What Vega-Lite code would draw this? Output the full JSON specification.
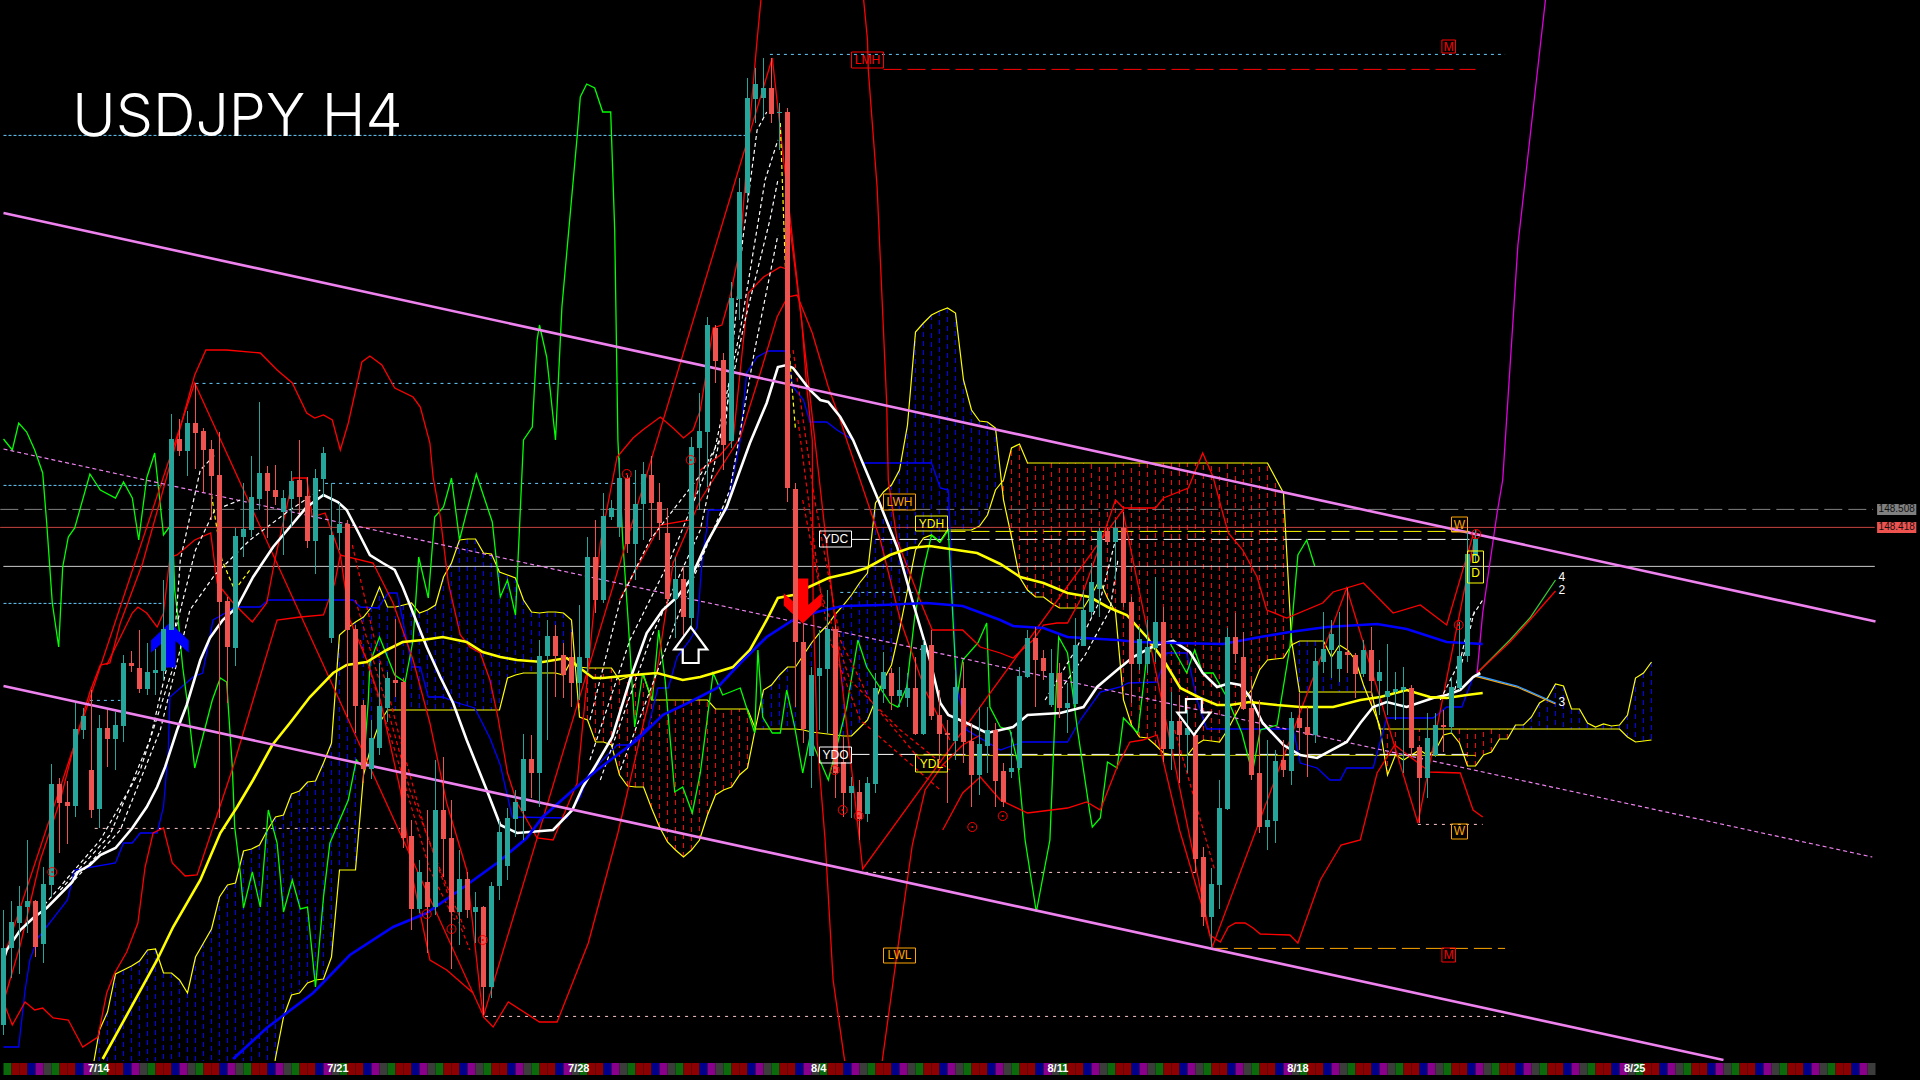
{"$schema":"https://vega.github.io/schema/vega-lite/v6.json","width":1920,"height":1080,"padding":0,"autosize":{"type":"none"},"background":"#000000","view":{"stroke":null},"config":{"axis":{"disable":true},"legend":{"disable":true}},
"datasets":{
"candles":[
{"bar":0,"o":145.93,"h":146.505,"l":145.88,"c":146.315},{"bar":1,"o":146.315,"h":146.55,"l":146.165,"c":146.445},{"bar":2,"o":146.44,"h":146.625,"l":146.185,"c":146.525},{"bar":3,"o":146.52,"h":146.855,"l":146.39,"c":146.55},{"bar":4,"o":146.55,"h":146.555,"l":146.27,"c":146.32},{"bar":5,"o":146.335,"h":146.72,"l":146.24,"c":146.635},{"bar":6,"o":146.63,"h":147.235,"l":146.57,"c":147.135},{"bar":7,"o":147.135,"h":147.165,"l":146.79,"c":147.04},{"bar":8,"o":147.045,"h":147.15,"l":146.835,"c":147.025},{"bar":9,"o":147.025,"h":147.54,"l":146.97,"c":147.41},
{"bar":10,"o":147.405,"h":147.515,"l":147.36,"c":147.475},{"bar":11,"o":147.205,"h":147.605,"l":146.965,"c":147.005},{"bar":12,"o":147.01,"h":147.48,"l":146.915,"c":147.415},{"bar":13,"o":147.415,"h":147.505,"l":147.22,"c":147.36},{"bar":14,"o":147.36,"h":147.495,"l":147.205,"c":147.43},{"bar":15,"o":147.425,"h":147.78,"l":147.345,"c":147.74},{"bar":16,"o":147.74,"h":147.8,"l":147.695,"c":147.725},{"bar":17,"o":147.715,"h":147.905,"l":147.59,"c":147.61},{"bar":18,"o":147.61,"h":147.84,"l":147.58,"c":147.695},{"bar":19,"o":147.69,"h":147.81,"l":147.58,"c":147.705},
{"bar":20,"o":147.7,"h":148.155,"l":147.655,"c":147.91},{"bar":21,"o":147.905,"h":148.985,"l":147.905,"c":148.86},{"bar":22,"o":148.86,"h":148.96,"l":148.775,"c":148.8},{"bar":23,"o":148.8,"h":149.0,"l":148.675,"c":148.94},{"bar":24,"o":148.94,"h":149.14,"l":148.71,"c":148.89},{"bar":25,"o":148.9,"h":148.915,"l":148.595,"c":148.805},{"bar":26,"o":148.81,"h":148.855,"l":148.455,"c":148.675},{"bar":27,"o":148.68,"h":148.895,"l":146.965,"c":148.045},{"bar":28,"o":148.05,"h":148.07,"l":147.54,"c":147.82},{"bar":29,"o":147.815,"h":148.415,"l":147.725,"c":148.375},
{"bar":30,"o":148.37,"h":148.64,"l":148.27,"c":148.41},{"bar":31,"o":148.405,"h":148.775,"l":148.37,"c":148.57},{"bar":32,"o":148.56,"h":149.045,"l":148.505,"c":148.69},{"bar":33,"o":148.69,"h":148.725,"l":148.365,"c":148.6},{"bar":34,"o":148.605,"h":148.73,"l":148.53,"c":148.57},{"bar":35,"o":148.495,"h":148.605,"l":148.28,"c":148.565},{"bar":36,"o":148.56,"h":148.7,"l":148.42,"c":148.65},{"bar":37,"o":148.655,"h":148.855,"l":148.49,"c":148.57},{"bar":38,"o":148.575,"h":148.67,"l":148.315,"c":148.35},{"bar":39,"o":148.35,"h":148.71,"l":148.185,"c":148.665},
{"bar":40,"o":148.66,"h":148.82,"l":148.57,"c":148.79},{"bar":41,"o":147.865,"h":148.64,"l":147.84,"c":148.38},{"bar":42,"o":148.39,"h":148.54,"l":148.305,"c":148.435},{"bar":43,"o":148.435,"h":148.455,"l":147.47,"c":147.905},{"bar":44,"o":147.91,"h":147.93,"l":147.39,"c":147.525},{"bar":45,"o":147.53,"h":147.555,"l":147.14,"c":147.21},{"bar":46,"o":147.21,"h":147.455,"l":147.16,"c":147.365},{"bar":47,"o":147.315,"h":147.74,"l":147.28,"c":147.525},{"bar":48,"o":147.515,"h":147.695,"l":147.445,"c":147.665},{"bar":49,"o":147.655,"h":147.96,"l":147.57,"c":147.64},
{"bar":50,"o":147.645,"h":147.665,"l":146.815,"c":146.865},{"bar":51,"o":146.875,"h":146.955,"l":146.405,"c":146.51},{"bar":52,"o":146.51,"h":146.755,"l":146.49,"c":146.695},{"bar":53,"o":146.645,"h":147.005,"l":146.29,"c":146.52},{"bar":54,"o":146.52,"h":147.255,"l":146.48,"c":147.005},{"bar":55,"o":147.005,"h":147.27,"l":146.67,"c":146.86},{"bar":56,"o":146.865,"h":147.055,"l":146.21,"c":146.495},{"bar":57,"o":146.495,"h":146.805,"l":146.33,"c":146.66},{"bar":58,"o":146.66,"h":146.695,"l":146.465,"c":146.505},{"bar":59,"o":146.495,"h":146.595,"l":146.34,"c":146.52},
{"bar":60,"o":146.52,"h":146.525,"l":145.98,"c":146.12},{"bar":61,"o":146.12,"h":146.645,"l":146.065,"c":146.625},{"bar":62,"o":146.625,"h":146.955,"l":146.555,"c":146.895},{"bar":63,"o":146.725,"h":147.015,"l":146.655,"c":146.965},{"bar":64,"o":146.96,"h":147.105,"l":146.87,"c":147.045},{"bar":65,"o":147.0,"h":147.385,"l":146.855,"c":147.26},{"bar":66,"o":147.26,"h":147.38,"l":147.065,"c":147.19},{"bar":67,"o":147.19,"h":147.855,"l":147.02,"c":147.775},{"bar":68,"o":147.775,"h":147.955,"l":147.355,"c":147.875},{"bar":69,"o":147.875,"h":147.93,"l":147.57,"c":147.775},
{"bar":70,"o":147.78,"h":147.84,"l":147.565,"c":147.68},{"bar":71,"o":147.77,"h":147.895,"l":147.52,"c":147.64},{"bar":72,"o":147.64,"h":148.03,"l":147.555,"c":147.77},{"bar":73,"o":147.765,"h":148.37,"l":147.69,"c":148.27},{"bar":74,"o":148.27,"h":148.455,"l":147.99,"c":148.055},{"bar":75,"o":148.055,"h":148.59,"l":148.04,"c":148.475},{"bar":76,"o":148.47,"h":148.555,"l":148.455,"c":148.515},{"bar":77,"o":148.42,"h":148.765,"l":148.37,"c":148.665},{"bar":78,"o":148.665,"h":148.68,"l":148.29,"c":148.335},{"bar":79,"o":148.335,"h":148.705,"l":148.155,"c":148.535},
{"bar":80,"o":148.535,"h":148.745,"l":148.355,"c":148.685},{"bar":81,"o":148.68,"h":148.775,"l":148.37,"c":148.54},{"bar":82,"o":148.545,"h":148.64,"l":148.355,"c":148.44},{"bar":83,"o":148.39,"h":148.515,"l":148.04,"c":148.06},{"bar":84,"o":148.06,"h":148.27,"l":147.865,"c":148.16},{"bar":85,"o":148.16,"h":148.22,"l":147.87,"c":147.97},{"bar":86,"o":147.965,"h":148.87,"l":147.92,"c":148.82},{"bar":87,"o":148.815,"h":149.09,"l":148.505,"c":148.9},{"bar":88,"o":148.895,"h":149.47,"l":148.62,"c":149.43},{"bar":89,"o":149.415,"h":149.43,"l":149.14,"c":149.25},
{"bar":90,"o":149.255,"h":149.29,"l":148.705,"c":148.83},{"bar":91,"o":148.85,"h":149.645,"l":148.815,"c":149.565},{"bar":92,"o":149.56,"h":150.165,"l":149.455,"c":150.095},{"bar":93,"o":150.09,"h":150.665,"l":150.055,"c":150.565},{"bar":94,"o":150.56,"h":150.715,"l":150.44,"c":150.635},{"bar":95,"o":150.565,"h":150.765,"l":150.47,"c":150.615},{"bar":96,"o":150.615,"h":150.765,"l":150.44,"c":150.485},{"bar":97,"o":150.49,"h":150.54,"l":150.305,"c":150.495},{"bar":98,"o":150.495,"h":150.515,"l":148.545,"c":148.615},{"bar":99,"o":148.61,"h":148.64,"l":147.52,"c":147.845},
{"bar":100,"o":147.845,"h":147.94,"l":147.34,"c":147.41},{"bar":101,"o":147.275,"h":147.72,"l":147.115,"c":147.68},{"bar":102,"o":147.675,"h":147.905,"l":147.405,"c":147.715},{"bar":103,"o":147.71,"h":148.105,"l":147.39,"c":147.91},{"bar":104,"o":147.91,"h":147.93,"l":147.065,"c":147.19},{"bar":105,"o":147.245,"h":147.37,"l":146.97,"c":147.09},{"bar":106,"o":147.09,"h":147.17,"l":146.965,"c":147.125},{"bar":107,"o":147.095,"h":147.155,"l":146.855,"c":146.96},{"bar":108,"o":146.985,"h":147.17,"l":146.945,"c":147.14},{"bar":109,"o":147.135,"h":147.69,"l":147.09,"c":147.615},
{"bar":110,"o":147.61,"h":147.795,"l":147.54,"c":147.695},{"bar":111,"o":147.69,"h":147.715,"l":147.505,"c":147.575},{"bar":112,"o":147.575,"h":147.72,"l":147.52,"c":147.605},{"bar":113,"o":147.565,"h":147.69,"l":147.52,"c":147.615},{"bar":114,"o":147.615,"h":147.77,"l":147.38,"c":147.385},{"bar":115,"o":147.385,"h":147.855,"l":147.38,"c":147.83},{"bar":116,"o":147.83,"h":147.905,"l":147.455,"c":147.475},{"bar":117,"o":147.48,"h":147.605,"l":147.255,"c":147.385},{"bar":118,"o":147.39,"h":147.455,"l":147.04,"c":147.38},{"bar":119,"o":147.35,"h":147.705,"l":147.255,"c":147.62},
{"bar":120,"o":147.615,"h":147.745,"l":147.24,"c":147.345},{"bar":121,"o":147.35,"h":147.44,"l":147.02,"c":147.18},{"bar":122,"o":147.18,"h":147.52,"l":147.08,"c":147.335},{"bar":123,"o":147.325,"h":147.52,"l":147.19,"c":147.405},{"bar":124,"o":147.405,"h":147.44,"l":147.02,"c":147.15},{"bar":125,"o":147.2,"h":147.24,"l":147.02,"c":147.045},{"bar":126,"o":147.195,"h":147.395,"l":147.165,"c":147.215},{"bar":127,"o":147.215,"h":147.72,"l":147.205,"c":147.675},{"bar":128,"o":147.67,"h":147.905,"l":147.665,"c":147.865},{"bar":129,"o":147.865,"h":147.92,"l":147.52,"c":147.755},
{"bar":130,"o":147.765,"h":147.805,"l":147.655,"c":147.7},{"bar":131,"o":147.53,"h":147.81,"l":147.52,"c":147.69},{"bar":132,"o":147.69,"h":147.74,"l":147.465,"c":147.515},{"bar":133,"o":147.515,"h":147.64,"l":147.39,"c":147.54},{"bar":134,"o":147.535,"h":147.965,"l":147.52,"c":147.83},{"bar":135,"o":147.825,"h":148.105,"l":147.955,"c":148.005},{"bar":136,"o":147.995,"h":148.24,"l":147.97,"c":148.145},{"bar":137,"o":148.11,"h":148.415,"l":147.97,"c":148.4},{"bar":138,"o":148.4,"h":148.415,"l":148.33,"c":148.345},{"bar":139,"o":148.345,"h":148.455,"l":148.155,"c":148.415},
{"bar":140,"o":148.415,"h":148.495,"l":148.02,"c":148.04},{"bar":141,"o":148.045,"h":148.07,"l":147.54,"c":147.735},{"bar":142,"o":147.735,"h":147.92,"l":147.705,"c":147.86},{"bar":143,"o":147.735,"h":147.955,"l":147.69,"c":147.82},{"bar":144,"o":147.815,"h":148.17,"l":147.745,"c":147.945},{"bar":145,"o":147.945,"h":148.02,"l":147.245,"c":147.31},{"bar":146,"o":147.31,"h":147.595,"l":147.205,"c":147.45},{"bar":147,"o":147.45,"h":147.58,"l":147.14,"c":147.38},{"bar":148,"o":147.38,"h":147.505,"l":147.19,"c":147.415},{"bar":149,"o":147.38,"h":147.405,"l":146.69,"c":146.76},
{"bar":150,"o":146.77,"h":146.82,"l":146.425,"c":146.47},{"bar":151,"o":146.47,"h":146.715,"l":146.32,"c":146.635},{"bar":152,"o":146.63,"h":147.155,"l":146.51,"c":147.015},{"bar":153,"o":147.01,"h":147.915,"l":147.005,"c":147.87},{"bar":154,"o":147.87,"h":147.99,"l":147.74,"c":147.785},{"bar":155,"o":147.77,"h":147.895,"l":147.505,"c":147.51},{"bar":156,"o":147.515,"h":147.655,"l":147.155,"c":147.18},{"bar":157,"o":147.19,"h":147.555,"l":146.89,"c":146.92},{"bar":158,"o":146.92,"h":147.355,"l":146.805,"c":146.955},{"bar":159,"o":146.95,"h":147.305,"l":146.84,"c":147.25},
{"bar":160,"o":147.255,"h":147.355,"l":147.17,"c":147.205},{"bar":161,"o":147.2,"h":147.495,"l":147.13,"c":147.465},{"bar":162,"o":147.465,"h":147.59,"l":147.305,"c":147.415},{"bar":163,"o":147.42,"h":147.52,"l":147.17,"c":147.38},{"bar":164,"o":147.38,"h":147.815,"l":147.34,"c":147.75},{"bar":165,"o":147.745,"h":147.995,"l":147.69,"c":147.81},{"bar":166,"o":147.805,"h":147.955,"l":147.665,"c":147.885},{"bar":167,"o":147.71,"h":147.995,"l":147.645,"c":147.8},{"bar":168,"o":147.795,"h":148.115,"l":147.69,"c":147.78},{"bar":169,"o":147.78,"h":147.79,"l":147.565,"c":147.685},
{"bar":170,"o":147.685,"h":147.855,"l":147.67,"c":147.805},{"bar":171,"o":147.805,"h":147.92,"l":147.58,"c":147.65},{"bar":172,"o":147.65,"h":147.755,"l":147.48,"c":147.695},{"bar":173,"o":147.57,"h":147.835,"l":147.48,"c":147.6},{"bar":174,"o":147.595,"h":147.695,"l":147.455,"c":147.61},{"bar":175,"o":147.605,"h":147.72,"l":147.19,"c":147.62},{"bar":176,"o":147.615,"h":147.63,"l":147.27,"c":147.315},{"bar":177,"o":147.32,"h":147.33,"l":146.94,"c":147.165},{"bar":178,"o":147.165,"h":147.49,"l":147.065,"c":147.365},{"bar":179,"o":147.28,"h":147.49,"l":147.27,"c":147.43},
{"bar":180,"o":147.43,"h":147.505,"l":147.295,"c":147.42},{"bar":181,"o":147.42,"h":147.67,"l":147.39,"c":147.62},{"bar":182,"o":147.615,"h":147.945,"l":147.605,"c":147.775},{"bar":183,"o":147.775,"h":148.405,"l":147.745,"c":148.285},{"bar":184,"o":148.275,"h":148.405,"l":148.24,"c":148.36}
],
"kumo":[
{"bar":11,"spanA":145.68,"spanB":145.5},{"bar":12,"spanA":145.905,"spanB":145.5},{"bar":13,"spanA":145.995,"spanB":145.5},{"bar":14,"spanA":146.185,"spanB":145.5},{"bar":15,"spanA":146.205,"spanB":145.5},{"bar":16,"spanA":146.225,"spanB":145.5},{"bar":17,"spanA":146.25,"spanB":145.5},{"bar":18,"spanA":146.305,"spanB":145.5},{"bar":19,"spanA":146.31,"spanB":145.5},{"bar":20,"spanA":146.19,"spanB":145.5},{"bar":21,"spanA":146.19,"spanB":145.5},{"bar":22,"spanA":146.155,"spanB":145.5},{"bar":23,"spanA":146.09,"spanB":145.5},{"bar":24,"spanA":146.27,"spanB":145.5},{"bar":25,"spanA":146.34,"spanB":145.5},{"bar":26,"spanA":146.41,"spanB":145.5},{"bar":27,"spanA":146.57,"spanB":145.5},{"bar":28,"spanA":146.63,"spanB":145.5},{"bar":29,"spanA":146.64,"spanB":145.5},{"bar":30,"spanA":146.8,"spanB":145.5},{"bar":31,"spanA":146.81,"spanB":145.5},{"bar":32,"spanA":146.83,"spanB":145.5},{"bar":33,"spanA":146.905,"spanB":145.5},
{"bar":34,"spanA":146.97,"spanB":145.765},{"bar":35,"spanA":146.98,"spanB":145.97},{"bar":36,"spanA":147.085,"spanB":146.08},{"bar":37,"spanA":147.1,"spanB":146.09},{"bar":38,"spanA":147.145,"spanB":146.14},{"bar":39,"spanA":147.15,"spanB":146.155},{"bar":40,"spanA":147.24,"spanB":146.16},{"bar":41,"spanA":147.34,"spanB":146.27},{"bar":42,"spanA":147.88,"spanB":146.705},{"bar":43,"spanA":147.915,"spanB":146.705},{"bar":44,"spanA":147.945,"spanB":146.705},{"bar":45,"spanA":147.97,"spanB":147.18},{"bar":46,"spanA":148.02,"spanB":147.33},{"bar":47,"spanA":148.12,"spanB":147.44},{"bar":48,"spanA":148.02,"spanB":147.505},{"bar":49,"spanA":148.02,"spanB":147.505},{"bar":50,"spanA":148.03,"spanB":147.505},{"bar":51,"spanA":148.04,"spanB":147.505},{"bar":52,"spanA":147.99,"spanB":147.505},{"bar":53,"spanA":148.005,"spanB":147.505},{"bar":54,"spanA":148.03,"spanB":147.505},{"bar":55,"spanA":148.17,"spanB":147.505},{"bar":56,"spanA":148.24,"spanB":147.505},{"bar":57,"spanA":148.355,"spanB":147.505},{"bar":58,"spanA":148.36,"spanB":147.505},{"bar":59,"spanA":148.36,"spanB":147.505},{"bar":60,"spanA":148.29,"spanB":147.505},{"bar":61,"spanA":148.285,"spanB":147.505},{"bar":62,"spanA":148.195,"spanB":147.505},
{"bar":63,"spanA":148.18,"spanB":147.665},{"bar":64,"spanA":148.165,"spanB":147.68},{"bar":65,"spanA":148.055,"spanB":147.69},{"bar":66,"spanA":147.995,"spanB":147.69},{"bar":67,"spanA":147.99,"spanB":147.69},{"bar":68,"spanA":147.995,"spanB":147.69},{"bar":69,"spanA":147.995,"spanB":147.69},{"bar":70,"spanA":147.99,"spanB":147.68},{"bar":71,"spanA":147.955,"spanB":147.755},{"bar":72,"spanA":147.47,"spanB":147.72},{"bar":73,"spanA":147.455,"spanB":147.715},{"bar":74,"spanA":147.345,"spanB":147.715},{"bar":75,"spanA":147.345,"spanB":147.715},{"bar":76,"spanA":147.33,"spanB":147.715},{"bar":77,"spanA":147.18,"spanB":147.655},{"bar":78,"spanA":147.125,"spanB":147.67},{"bar":79,"spanA":147.12,"spanB":147.68},{"bar":80,"spanA":147.12,"spanB":147.68},{"bar":81,"spanA":147.015,"spanB":147.555},{"bar":82,"spanA":146.92,"spanB":147.555},{"bar":83,"spanA":146.845,"spanB":147.555},{"bar":84,"spanA":146.805,"spanB":147.555},{"bar":85,"spanA":146.77,"spanB":147.555},{"bar":86,"spanA":146.805,"spanB":147.555},{"bar":87,"spanA":146.855,"spanB":147.555},{"bar":88,"spanA":146.98,"spanB":147.555},{"bar":89,"spanA":147.08,"spanB":147.51},{"bar":90,"spanA":147.105,"spanB":147.51},{"bar":91,"spanA":147.12,"spanB":147.51},{"bar":92,"spanA":147.18,"spanB":147.51},{"bar":93,"spanA":147.215,"spanB":147.51},{"bar":94,"spanA":147.415,"spanB":147.41},
{"bar":95,"spanA":147.605,"spanB":147.41},{"bar":96,"spanA":147.63,"spanB":147.41},{"bar":97,"spanA":147.68,"spanB":147.41},{"bar":98,"spanA":147.72,"spanB":147.41},{"bar":99,"spanA":147.72,"spanB":147.41},{"bar":100,"spanA":147.78,"spanB":147.405},{"bar":101,"spanA":147.84,"spanB":147.395},{"bar":102,"spanA":147.89,"spanB":147.39},{"bar":103,"spanA":147.93,"spanB":147.385},{"bar":104,"spanA":147.985,"spanB":147.38},{"bar":105,"spanA":148.03,"spanB":147.375},{"bar":106,"spanA":148.08,"spanB":147.375},{"bar":107,"spanA":148.14,"spanB":147.415},{"bar":108,"spanA":148.19,"spanB":147.455},{"bar":109,"spanA":148.54,"spanB":147.555},{"bar":110,"spanA":148.595,"spanB":147.655},{"bar":111,"spanA":148.63,"spanB":147.73},{"bar":112,"spanA":148.705,"spanB":147.905},{"bar":113,"spanA":148.93,"spanB":148.105},{"bar":114,"spanA":149.395,"spanB":148.305},{"bar":115,"spanA":149.44,"spanB":148.365},{"bar":116,"spanA":149.48,"spanB":148.38},{"bar":117,"spanA":149.5,"spanB":148.345},{"bar":118,"spanA":149.515,"spanB":148.405},{"bar":119,"spanA":149.49,"spanB":148.405},{"bar":120,"spanA":149.155,"spanB":148.405},{"bar":121,"spanA":149.005,"spanB":148.405},{"bar":122,"spanA":148.95,"spanB":148.425},{"bar":123,"spanA":148.945,"spanB":148.48},{"bar":124,"spanA":148.915,"spanB":148.605},
{"bar":125,"spanA":148.555,"spanB":148.655},{"bar":126,"spanA":148.37,"spanB":148.815},{"bar":127,"spanA":148.17,"spanB":148.835},{"bar":128,"spanA":148.105,"spanB":148.74},{"bar":129,"spanA":148.07,"spanB":148.74},{"bar":130,"spanA":148.07,"spanB":148.74},{"bar":131,"spanA":148.04,"spanB":148.74},{"bar":132,"spanA":148.015,"spanB":148.74},{"bar":133,"spanA":148.015,"spanB":148.74},{"bar":134,"spanA":148.015,"spanB":148.74},{"bar":135,"spanA":148.015,"spanB":148.74},{"bar":136,"spanA":148.08,"spanB":148.74},{"bar":137,"spanA":148.155,"spanB":148.74},{"bar":138,"spanA":148.065,"spanB":148.74},{"bar":139,"spanA":147.995,"spanB":148.74},{"bar":140,"spanA":147.555,"spanB":148.74},{"bar":141,"spanA":147.43,"spanB":148.74},{"bar":142,"spanA":147.37,"spanB":148.74},{"bar":143,"spanA":147.365,"spanB":148.74},{"bar":144,"spanA":147.33,"spanB":148.74},{"bar":145,"spanA":147.29,"spanB":148.74},{"bar":146,"spanA":147.28,"spanB":148.74},{"bar":147,"spanA":147.28,"spanB":148.74},{"bar":148,"spanA":147.28,"spanB":148.74},{"bar":149,"spanA":147.33,"spanB":148.74},{"bar":150,"spanA":147.355,"spanB":148.74},{"bar":151,"spanA":147.35,"spanB":148.74},{"bar":152,"spanA":147.345,"spanB":148.74},{"bar":153,"spanA":147.405,"spanB":148.74},{"bar":154,"spanA":147.48,"spanB":148.74},{"bar":155,"spanA":147.555,"spanB":148.74},{"bar":156,"spanA":147.605,"spanB":148.74},{"bar":157,"spanA":147.705,"spanB":148.74},{"bar":158,"spanA":147.755,"spanB":148.74},{"bar":159,"spanA":147.76,"spanB":148.665},{"bar":160,"spanA":147.765,"spanB":148.59},
{"bar":161,"spanA":147.83,"spanB":147.855},{"bar":162,"spanA":147.85,"spanB":147.595},{"bar":163,"spanA":147.85,"spanB":147.595},{"bar":164,"spanA":147.85,"spanB":147.595},{"bar":165,"spanA":147.85,"spanB":147.595},{"bar":166,"spanA":147.77,"spanB":147.595},{"bar":167,"spanA":147.83,"spanB":147.595},{"bar":168,"spanA":147.805,"spanB":147.595},{"bar":169,"spanA":147.755,"spanB":147.595},{"bar":170,"spanA":147.63,"spanB":147.595},{"bar":171,"spanA":147.53,"spanB":147.595},{"bar":172,"spanA":147.43,"spanB":147.41},{"bar":173,"spanA":147.18,"spanB":147.41},{"bar":174,"spanA":147.28,"spanB":147.41},{"bar":175,"spanA":147.255,"spanB":147.41},{"bar":176,"spanA":147.28,"spanB":147.41},{"bar":177,"spanA":147.305,"spanB":147.41},{"bar":178,"spanA":147.28,"spanB":147.41},{"bar":179,"spanA":147.305,"spanB":147.41},{"bar":180,"spanA":147.38,"spanB":147.41},{"bar":181,"spanA":147.39,"spanB":147.41},{"bar":182,"spanA":147.34,"spanB":147.41},{"bar":183,"spanA":147.225,"spanB":147.41},{"bar":184,"spanA":147.225,"spanB":147.41},{"bar":185,"spanA":147.28,"spanB":147.41},{"bar":186,"spanA":147.295,"spanB":147.41},{"bar":187,"spanA":147.36,"spanB":147.41},{"bar":188,"spanA":147.36,"spanB":147.41},{"bar":189,"spanA":147.43,"spanB":147.41},{"bar":190,"spanA":147.43,"spanB":147.41},{"bar":191,"spanA":147.47,"spanB":147.41},{"bar":192,"spanA":147.54,"spanB":147.41},{"bar":193,"spanA":147.565,"spanB":147.41},{"bar":194,"spanA":147.635,"spanB":147.41},{"bar":195,"spanA":147.625,"spanB":147.41},{"bar":196,"spanA":147.51,"spanB":147.41},{"bar":197,"spanA":147.51,"spanB":147.41},{"bar":198,"spanA":147.44,"spanB":147.41},{"bar":199,"spanA":147.42,"spanB":147.41},{"bar":200,"spanA":147.435,"spanB":147.41},{"bar":201,"spanA":147.425,"spanB":147.41},{"bar":202,"spanA":147.43,"spanB":147.41},{"bar":203,"spanA":147.48,"spanB":147.37},{"bar":204,"spanA":147.665,"spanB":147.345},{"bar":205,"spanA":147.69,"spanB":147.35},{"bar":206,"spanA":147.745,"spanB":147.355}
],
"thick":[
{"s":"ma1","bar":0,"price":146.255},{"s":"ma1","bar":0.4,"price":146.305},{"s":"ma1","bar":2.1,"price":146.405},{"s":"ma1","bar":3.7,"price":146.465},{"s":"ma1","bar":5.4,"price":146.515},{"s":"ma1","bar":8.6,"price":146.645},{"s":"ma1","bar":9.3,"price":146.695},{"s":"ma1","bar":10.8,"price":146.73},{"s":"ma1","bar":12.1,"price":146.78},{"s":"ma1","bar":14,"price":146.815},{"s":"ma1","bar":16.1,"price":146.915},{"s":"ma1","bar":17.9,"price":147.02},{"s":"ma1","bar":19.2,"price":147.12},{"s":"ma1","bar":20.2,"price":147.22},{"s":"ma1","bar":21.7,"price":147.405},{"s":"ma1","bar":22.9,"price":147.53},{"s":"ma1","bar":24.6,"price":147.755},{"s":"ma1","bar":25.8,"price":147.865},{"s":"ma1","bar":27.4,"price":147.955},{"s":"ma1","bar":29.2,"price":148.02},{"s":"ma1","bar":31.2,"price":148.17},{"s":"ma1","bar":33.7,"price":148.32},{"s":"ma1","bar":35.8,"price":148.42},{"s":"ma1","bar":37.9,"price":148.52},{"s":"ma1","bar":40,"price":148.58},{"s":"ma1","bar":41.8,"price":148.545},{"s":"ma1","bar":42.9,"price":148.505},{"s":"ma1","bar":44.2,"price":148.405},{"s":"ma1","bar":45.8,"price":148.28},{"s":"ma1","bar":47.4,"price":148.24},{"s":"ma1","bar":48.9,"price":148.205},{"s":"ma1","bar":49.9,"price":148.12},{"s":"ma1","bar":51.2,"price":147.99},{"s":"ma1","bar":52.9,"price":147.82},{"s":"ma1","bar":54.6,"price":147.67},{"s":"ma1","bar":56.2,"price":147.54},{"s":"ma1","bar":57.9,"price":147.355},{"s":"ma1","bar":60.4,"price":147.105},{"s":"ma1","bar":62.1,"price":146.93},{"s":"ma1","bar":64.2,"price":146.89},{"s":"ma1","bar":68.7,"price":146.905},{"s":"ma1","bar":71.1,"price":147.005},{"s":"ma1","bar":72.4,"price":147.12},{"s":"ma1","bar":74.2,"price":147.24},{"s":"ma1","bar":76.1,"price":147.37},{"s":"ma1","bar":78.3,"price":147.655},{"s":"ma1","bar":80.4,"price":147.89},{"s":"ma1","bar":82.4,"price":148.005},{"s":"ma1","bar":84.2,"price":148.07},{"s":"ma1","bar":85.8,"price":148.155},{"s":"ma1","bar":87.9,"price":148.34},{"s":"ma1","bar":90.4,"price":148.52},{"s":"ma1","bar":93.3,"price":148.84},{"s":"ma1","bar":95.4,"price":149.04},{"s":"ma1","bar":96.8,"price":149.22},{"s":"ma1","bar":97.9,"price":149.23},{"s":"ma1","bar":98.7,"price":149.215},{"s":"ma1","bar":100.8,"price":149.105},{"s":"ma1","bar":102.1,"price":149.055},{"s":"ma1","bar":103.1,"price":149.045},{"s":"ma1","bar":104.6,"price":148.97},{"s":"ma1","bar":106.2,"price":148.855},{"s":"ma1","bar":109.2,"price":148.57},{"s":"ma1","bar":111.7,"price":148.32},{"s":"ma1","bar":113.7,"price":148.04},{"s":"ma1","bar":115.8,"price":147.755},{"s":"ma1","bar":117.1,"price":147.54},{"s":"ma1","bar":118.1,"price":147.48},{"s":"ma1","bar":120.4,"price":147.44},{"s":"ma1","bar":122.9,"price":147.39},{"s":"ma1","bar":124.6,"price":147.405},{"s":"ma1","bar":126.2,"price":147.42},{"s":"ma1","bar":128,"price":147.48},{"s":"ma1","bar":132.1,"price":147.49},{"s":"ma1","bar":135,"price":147.52},{"s":"ma1","bar":136.7,"price":147.62},{"s":"ma1","bar":139.2,"price":147.705},{"s":"ma1","bar":141.2,"price":147.77},{"s":"ma1","bar":144,"price":147.83},{"s":"ma1","bar":146.2,"price":147.85},{"s":"ma1","bar":148.3,"price":147.795},{"s":"ma1","bar":149.9,"price":147.69},{"s":"ma1","bar":151.7,"price":147.62},{"s":"ma1","bar":153.3,"price":147.64},{"s":"ma1","bar":154.6,"price":147.63},{"s":"ma1","bar":155.8,"price":147.57},{"s":"ma1","bar":157.4,"price":147.44},{"s":"ma1","bar":160,"price":147.33},{"s":"ma1","bar":162.1,"price":147.28},{"s":"ma1","bar":164.2,"price":147.265},{"s":"ma1","bar":167.9,"price":147.345},{"s":"ma1","bar":169.6,"price":147.44},{"s":"ma1","bar":171.2,"price":147.52},{"s":"ma1","bar":172.9,"price":147.545},{"s":"ma1","bar":175.4,"price":147.52},{"s":"ma1","bar":178.7,"price":147.565},{"s":"ma1","bar":180.4,"price":147.58},{"s":"ma1","bar":182.1,"price":147.605},{"s":"ma1","bar":183.7,"price":147.67},{"s":"ma1","bar":184.6,"price":147.69},
{"s":"ma2","bar":12.4,"price":145.76},{"s":"ma2","bar":19.2,"price":146.255},{"s":"ma2","bar":21.2,"price":146.42},{"s":"ma2","bar":24.6,"price":146.655},{"s":"ma2","bar":27.1,"price":146.89},{"s":"ma2","bar":29.2,"price":147.02},{"s":"ma2","bar":31.2,"price":147.155},{"s":"ma2","bar":33.6,"price":147.33},{"s":"ma2","bar":35.8,"price":147.44},{"s":"ma2","bar":38.3,"price":147.57},{"s":"ma2","bar":41.2,"price":147.69},{"s":"ma2","bar":42.9,"price":147.73},{"s":"ma2","bar":45.4,"price":147.745},{"s":"ma2","bar":47.9,"price":147.805},{"s":"ma2","bar":49.9,"price":147.845},{"s":"ma2","bar":52.4,"price":147.855},{"s":"ma2","bar":54.9,"price":147.87},{"s":"ma2","bar":57.9,"price":147.845},{"s":"ma2","bar":59.9,"price":147.795},{"s":"ma2","bar":62.1,"price":147.77},{"s":"ma2","bar":64.2,"price":147.755},{"s":"ma2","bar":67.4,"price":147.745},{"s":"ma2","bar":70.4,"price":147.765},{"s":"ma2","bar":73.7,"price":147.665},{"s":"ma2","bar":74.9,"price":147.665},{"s":"ma2","bar":78.7,"price":147.68},{"s":"ma2","bar":81.7,"price":147.69},{"s":"ma2","bar":84.9,"price":147.655},{"s":"ma2","bar":87.1,"price":147.67},{"s":"ma2","bar":89.2,"price":147.695},{"s":"ma2","bar":91.2,"price":147.72},{"s":"ma2","bar":93.3,"price":147.805},{"s":"ma2","bar":95.4,"price":147.955},{"s":"ma2","bar":96.8,"price":148.065},{"s":"ma2","bar":98.7,"price":148.08},{"s":"ma2","bar":100.4,"price":148.115},{"s":"ma2","bar":103.1,"price":148.165},{"s":"ma2","bar":105.8,"price":148.19},{"s":"ma2","bar":107.9,"price":148.215},{"s":"ma2","bar":110.8,"price":148.28},{"s":"ma2","bar":113.3,"price":148.315},{"s":"ma2","bar":115.8,"price":148.325},{"s":"ma2","bar":118.3,"price":148.31},{"s":"ma2","bar":121.7,"price":148.29},{"s":"ma2","bar":124.6,"price":148.235},{"s":"ma2","bar":127.1,"price":148.17},{"s":"ma2","bar":130,"price":148.14},{"s":"ma2","bar":133,"price":148.09},{"s":"ma2","bar":135.8,"price":148.07},{"s":"ma2","bar":138,"price":148.02},{"s":"ma2","bar":140.4,"price":147.98},{"s":"ma2","bar":142.9,"price":147.87},{"s":"ma2","bar":145,"price":147.755},{"s":"ma2","bar":147.1,"price":147.615},{"s":"ma2","bar":149.6,"price":147.565},{"s":"ma2","bar":151.7,"price":147.53},{"s":"ma2","bar":153.3,"price":147.53},{"s":"ma2","bar":155.8,"price":147.545},{"s":"ma2","bar":159.2,"price":147.53},{"s":"ma2","bar":162.1,"price":147.52},{"s":"ma2","bar":166.2,"price":147.52},{"s":"ma2","bar":169.6,"price":147.555},{"s":"ma2","bar":172.1,"price":147.57},{"s":"ma2","bar":175.4,"price":147.605},{"s":"ma2","bar":178.3,"price":147.57},{"s":"ma2","bar":180.4,"price":147.565},{"s":"ma2","bar":182.9,"price":147.58},{"s":"ma2","bar":184.9,"price":147.59},
{"s":"ma3","bar":28.7,"price":145.76},{"s":"ma3","bar":32.9,"price":145.915},{"s":"ma3","bar":38.7,"price":146.09},{"s":"ma3","bar":43.3,"price":146.28},{"s":"ma3","bar":48.7,"price":146.42},{"s":"ma3","bar":52.9,"price":146.49},{"s":"ma3","bar":57.9,"price":146.63},{"s":"ma3","bar":61.7,"price":146.74},{"s":"ma3","bar":65.4,"price":146.865},{"s":"ma3","bar":67.4,"price":146.97},{"s":"ma3","bar":71.2,"price":147.105},{"s":"ma3","bar":74.2,"price":147.205},{"s":"ma3","bar":79.2,"price":147.355},{"s":"ma3","bar":82.4,"price":147.48},{"s":"ma3","bar":85.8,"price":147.545},{"s":"ma3","bar":89.2,"price":147.615},{"s":"ma3","bar":92.1,"price":147.74},{"s":"ma3","bar":95.4,"price":147.87},{"s":"ma3","bar":98.7,"price":147.955},{"s":"ma3","bar":101.7,"price":147.995},{"s":"ma3","bar":104.9,"price":148.025},{"s":"ma3","bar":109.9,"price":148.03},{"s":"ma3","bar":115.4,"price":148.04},{"s":"ma3","bar":119.9,"price":148.025},{"s":"ma3","bar":124.6,"price":147.955},{"s":"ma3","bar":126.2,"price":147.925},{"s":"ma3","bar":130,"price":147.915},{"s":"ma3","bar":133,"price":147.87},{"s":"ma3","bar":139.2,"price":147.855},{"s":"ma3","bar":141.7,"price":147.845},{"s":"ma3","bar":146.2,"price":147.84},{"s":"ma3","bar":152.4,"price":147.835},{"s":"ma3","bar":157.1,"price":147.87},{"s":"ma3","bar":160.8,"price":147.895},{"s":"ma3","bar":165.4,"price":147.92},{"s":"ma3","bar":171.7,"price":147.935},{"s":"ma3","bar":175.4,"price":147.91},{"s":"ma3","bar":180.4,"price":147.845},{"s":"ma3","bar":184.9,"price":147.835},
{"s":"up","bar":0,"price":149.99},{"s":"up","bar":234,"price":147.948},{"s":"low","bar":0,"price":147.625},{"s":"low","bar":215,"price":145.755}
],
"thin":[
{"s":"kijun","bar":0,"price":145.82},{"s":"kijun","bar":1.9,"price":145.82},{"s":"kijun","bar":2.7,"price":146.105},{"s":"kijun","bar":3.3,"price":146.255},{"s":"kijun","bar":4.3,"price":146.365},{"s":"kijun","bar":8,"price":146.555},{"s":"kijun","bar":8.9,"price":146.705},{"s":"kijun","bar":14,"price":146.74},{"s":"kijun","bar":15,"price":146.84},{"s":"kijun","bar":16.1,"price":146.84},{"s":"kijun","bar":17.1,"price":146.89},{"s":"kijun","bar":19.2,"price":146.89},{"s":"kijun","bar":20,"price":147.02},{"s":"kijun","bar":20.6,"price":147.305},{"s":"kijun","bar":20.8,"price":147.57},{"s":"kijun","bar":23.7,"price":147.67},{"s":"kijun","bar":24.9,"price":147.69},{"s":"kijun","bar":26.2,"price":147.955},{"s":"kijun","bar":27.3,"price":147.98},{"s":"kijun","bar":28.9,"price":148.02},{"s":"kijun","bar":32.1,"price":148.02},{"s":"kijun","bar":33.1,"price":148.055},{"s":"kijun","bar":43.7,"price":148.055},{"s":"kijun","bar":44.6,"price":148.02},{"s":"kijun","bar":46.8,"price":148.015},{"s":"kijun","bar":48.1,"price":148.09},{"s":"kijun","bar":49.2,"price":148.09},{"s":"kijun","bar":51.1,"price":147.72},{"s":"kijun","bar":52.1,"price":147.72},{"s":"kijun","bar":53.1,"price":147.57},{"s":"kijun","bar":54.9,"price":147.57},{"s":"kijun","bar":56.8,"price":147.54},{"s":"kijun","bar":58.9,"price":147.515},{"s":"kijun","bar":60.8,"price":147.365},{"s":"kijun","bar":62.1,"price":147.23},{"s":"kijun","bar":63.6,"price":146.97},{"s":"kijun","bar":70.4,"price":146.965},{"s":"kijun","bar":72.1,"price":147.07},{"s":"kijun","bar":73.1,"price":147.18},{"s":"kijun","bar":76.7,"price":147.33},{"s":"kijun","bar":78.1,"price":147.33},{"s":"kijun","bar":80.6,"price":147.42},{"s":"kijun","bar":81.8,"price":147.615},{"s":"kijun","bar":83.1,"price":147.615},{"s":"kijun","bar":84.2,"price":147.77},{"s":"kijun","bar":85.8,"price":147.855},{"s":"kijun","bar":86.7,"price":147.92},{"s":"kijun","bar":87.4,"price":148.29},{"s":"kijun","bar":87.9,"price":148.405},{"s":"kijun","bar":88.1,"price":148.505},{"s":"kijun","bar":90.4,"price":148.505},{"s":"kijun","bar":92.1,"price":148.855},{"s":"kijun","bar":92.9,"price":149.19},{"s":"kijun","bar":94.2,"price":149.27},{"s":"kijun","bar":95.6,"price":149.3},{"s":"kijun","bar":97.7,"price":149.3},{"s":"kijun","bar":98.7,"price":149.12},{"s":"kijun","bar":100,"price":149.055},{"s":"kijun","bar":100.8,"price":148.945},{"s":"kijun","bar":102.9,"price":148.945},{"s":"kijun","bar":104.2,"price":148.905},{"s":"kijun","bar":106.2,"price":148.855},{"s":"kijun","bar":107.4,"price":148.74},{"s":"kijun","bar":116,"price":148.74},{"s":"kijun","bar":117.1,"price":148.615},{"s":"kijun","bar":118.1,"price":148.605},{"s":"kijun","bar":118.7,"price":148.02},{"s":"kijun","bar":119.2,"price":147.62},{"s":"kijun","bar":120.4,"price":147.405},{"s":"kijun","bar":124.6,"price":147.305},{"s":"kijun","bar":127.4,"price":147.345},{"s":"kijun","bar":133,"price":147.345},{"s":"kijun","bar":134.6,"price":147.455},{"s":"kijun","bar":137.1,"price":147.595},{"s":"kijun","bar":139.6,"price":147.62},{"s":"kijun","bar":140.6,"price":147.64},{"s":"kijun","bar":144.2,"price":147.645},{"s":"kijun","bar":145.4,"price":147.79},{"s":"kijun","bar":147.9,"price":147.79},{"s":"kijun","bar":149.2,"price":147.555},{"s":"kijun","bar":150.4,"price":147.41},{"s":"kijun","bar":161.2,"price":147.41},{"s":"kijun","bar":162.1,"price":147.24},{"s":"kijun","bar":164.2,"price":147.215},{"s":"kijun","bar":165.8,"price":147.155},{"s":"kijun","bar":167.1,"price":147.155},{"s":"kijun","bar":167.9,"price":147.215},{"s":"kijun","bar":171.2,"price":147.215},{"s":"kijun","bar":172.9,"price":147.465},{"s":"kijun","bar":178.7,"price":147.465},{"s":"kijun","bar":180.4,"price":147.52},{"s":"kijun","bar":182.3,"price":147.52},{"s":"kijun","bar":183.7,"price":147.67},
{"s":"lag","bar":0,"price":148.86},{"s":"lag","bar":1.1,"price":148.805},{"s":"lag","bar":1.9,"price":148.94},{"s":"lag","bar":2.9,"price":148.895},{"s":"lag","bar":3.9,"price":148.805},{"s":"lag","bar":4.9,"price":148.69},{"s":"lag","bar":5.4,"price":148.44},{"s":"lag","bar":6.1,"price":148.04},{"s":"lag","bar":6.9,"price":147.82},{"s":"lag","bar":7.4,"price":148.22},{"s":"lag","bar":8.1,"price":148.37},{"s":"lag","bar":8.9,"price":148.415},{"s":"lag","bar":10.8,"price":148.685},{"s":"lag","bar":12.1,"price":148.605},{"s":"lag","bar":14,"price":148.565},{"s":"lag","bar":15,"price":148.645},{"s":"lag","bar":16.1,"price":148.565},{"s":"lag","bar":16.9,"price":148.355},{"s":"lag","bar":17.9,"price":148.665},{"s":"lag","bar":18.9,"price":148.79},{"s":"lag","bar":20,"price":148.38},{"s":"lag","bar":21.1,"price":148.44},{"s":"lag","bar":21.4,"price":148.105},{"s":"lag","bar":21.8,"price":147.97},{"s":"lag","bar":22.4,"price":147.72},{"s":"lag","bar":23.1,"price":147.505},{"s":"lag","bar":23.9,"price":147.215},{"s":"lag","bar":24.9,"price":147.37},{"s":"lag","bar":26.1,"price":147.555},{"s":"lag","bar":27.1,"price":147.665},{"s":"lag","bar":27.9,"price":147.645},{"s":"lag","bar":28.1,"price":147.52},{"s":"lag","bar":28.6,"price":147.22},{"s":"lag","bar":28.9,"price":146.92},{"s":"lag","bar":29.6,"price":146.69},{"s":"lag","bar":30,"price":146.515},{"s":"lag","bar":31.1,"price":146.695},{"s":"lag","bar":32.1,"price":146.52},{"s":"lag","bar":33.1,"price":147.005},{"s":"lag","bar":34.2,"price":146.84},{"s":"lag","bar":35,"price":146.495},{"s":"lag","bar":36.1,"price":146.655},{"s":"lag","bar":37.1,"price":146.51},{"s":"lag","bar":38,"price":146.52},{"s":"lag","bar":39,"price":146.12},{"s":"lag","bar":40,"price":146.57},{"s":"lag","bar":40.8,"price":146.84},{"s":"lag","bar":43.1,"price":147.055},{"s":"lag","bar":44.1,"price":147.255},{"s":"lag","bar":45,"price":147.215},{"s":"lag","bar":45.6,"price":147.555},{"s":"lag","bar":45.8,"price":147.74},{"s":"lag","bar":47,"price":147.87},{"s":"lag","bar":48.9,"price":147.68},{"s":"lag","bar":50.2,"price":147.645},{"s":"lag","bar":51.2,"price":147.855},{"s":"lag","bar":51.9,"price":148.27},{"s":"lag","bar":53.1,"price":148.065},{"s":"lag","bar":53.9,"price":148.47},{"s":"lag","bar":55,"price":148.52},{"s":"lag","bar":56,"price":148.665},{"s":"lag","bar":57,"price":148.355},{"s":"lag","bar":59.1,"price":148.685},{"s":"lag","bar":61.1,"price":148.445},{"s":"lag","bar":62.1,"price":148.07},{"s":"lag","bar":63,"price":148.155},{"s":"lag","bar":64,"price":147.98},{"s":"lag","bar":65,"price":148.855},{"s":"lag","bar":66.1,"price":148.92},{"s":"lag","bar":66.7,"price":149.355},{"s":"lag","bar":67,"price":149.43},{"s":"lag","bar":67.9,"price":149.27},{"s":"lag","bar":69,"price":148.855},{"s":"lag","bar":69.8,"price":149.52},{"s":"lag","bar":71.7,"price":150.37},{"s":"lag","bar":72.1,"price":150.57},{"s":"lag","bar":72.9,"price":150.635},{"s":"lag","bar":73.9,"price":150.615},{"s":"lag","bar":74.9,"price":150.495},{"s":"lag","bar":75.9,"price":150.495},{"s":"lag","bar":76.4,"price":149.905},{"s":"lag","bar":76.8,"price":148.855},{"s":"lag","bar":77.4,"price":148.355},{"s":"lag","bar":78.1,"price":147.94},{"s":"lag","bar":78.9,"price":147.42},{"s":"lag","bar":79.9,"price":147.69},{"s":"lag","bar":81.1,"price":147.555},{"s":"lag","bar":81.9,"price":147.905},{"s":"lag","bar":82.7,"price":147.655},{"s":"lag","bar":83.9,"price":147.095},{"s":"lag","bar":84.9,"price":147.12},{"s":"lag","bar":86.1,"price":146.99},{"s":"lag","bar":87.1,"price":147.19},{"s":"lag","bar":88.7,"price":147.69},{"s":"lag","bar":89.9,"price":147.58},{"s":"lag","bar":92.1,"price":147.615},{"s":"lag","bar":93.9,"price":147.39},{"s":"lag","bar":94.3,"price":147.805},{"s":"lag","bar":94.9,"price":147.47},{"s":"lag","bar":96.1,"price":147.39},{"s":"lag","bar":97.1,"price":147.39},{"s":"lag","bar":97.9,"price":147.605},{"s":"lag","bar":98.9,"price":147.42},{"s":"lag","bar":99.9,"price":147.19},{"s":"lag","bar":100.8,"price":147.37},{"s":"lag","bar":103.1,"price":147.155},{"s":"lag","bar":105.4,"price":147.52},{"s":"lag","bar":106.8,"price":147.855},{"s":"lag","bar":107.9,"price":147.72},{"s":"lag","bar":110.8,"price":147.54},{"s":"lag","bar":111.8,"price":147.52},{"s":"lag","bar":112.9,"price":147.62},{"s":"lag","bar":113.9,"price":147.97},{"s":"lag","bar":114.9,"price":148.19},{"s":"lag","bar":116,"price":148.38},{"s":"lag","bar":117.1,"price":148.345},{"s":"lag","bar":118.1,"price":148.405},{"s":"lag","bar":118.6,"price":148.02},{"s":"lag","bar":119.2,"price":147.57},{"s":"lag","bar":119.9,"price":147.755},{"s":"lag","bar":121.8,"price":147.84},{"s":"lag","bar":122.9,"price":147.94},{"s":"lag","bar":123.3,"price":147.52},{"s":"lag","bar":124.6,"price":147.42},{"s":"lag","bar":125.8,"price":147.405},{"s":"lag","bar":126.8,"price":147.24},{"s":"lag","bar":127.7,"price":146.855},{"s":"lag","bar":129.1,"price":146.495},{"s":"lag","bar":130.8,"price":146.855},{"s":"lag","bar":131.4,"price":147.44},{"s":"lag","bar":131.9,"price":147.87},{"s":"lag","bar":133,"price":147.79},{"s":"lag","bar":134.2,"price":147.42},{"s":"lag","bar":135.8,"price":146.99},{"s":"lag","bar":136.1,"price":146.92},{"s":"lag","bar":137.1,"price":146.965},{"s":"lag","bar":138,"price":147.245},{"s":"lag","bar":139.2,"price":147.215},{"s":"lag","bar":140,"price":147.465},{"s":"lag","bar":141.8,"price":147.39},{"s":"lag","bar":142.9,"price":147.77},{"s":"lag","bar":144,"price":147.84},{"s":"lag","bar":145.8,"price":147.84},{"s":"lag","bar":147.9,"price":147.69},{"s":"lag","bar":148.9,"price":147.805},{"s":"lag","bar":149.9,"price":147.69},{"s":"lag","bar":151.2,"price":147.69},{"s":"lag","bar":152.9,"price":147.57},{"s":"lag","bar":154.8,"price":147.39},{"s":"lag","bar":156.1,"price":147.19},{"s":"lag","bar":157.1,"price":147.405},{"s":"lag","bar":159.2,"price":147.43},{"s":"lag","bar":160.8,"price":147.82},{"s":"lag","bar":161.8,"price":148.28},{"s":"lag","bar":162.9,"price":148.355},{"s":"lag","bar":163.9,"price":148.225},
{"s":"bandUp","bar":0,"price":146.045},{"s":"bandUp","bar":2.1,"price":146.33},{"s":"bandUp","bar":4.6,"price":146.755},{"s":"bandUp","bar":7.1,"price":147.055},{"s":"bandUp","bar":8.9,"price":147.34},{"s":"bandUp","bar":10.8,"price":147.595},{"s":"bandUp","bar":12.1,"price":147.73},{"s":"bandUp","bar":13.3,"price":147.74},{"s":"bandUp","bar":14.6,"price":147.94},{"s":"bandUp","bar":17.4,"price":148.24},{"s":"bandUp","bar":20.4,"price":148.67},{"s":"bandUp","bar":23.9,"price":149.18},{"s":"bandUp","bar":25.3,"price":149.305},{"s":"bandUp","bar":27.9,"price":149.305},{"s":"bandUp","bar":32.1,"price":149.29},{"s":"bandUp","bar":34.2,"price":149.205},{"s":"bandUp","bar":36.1,"price":149.14},{"s":"bandUp","bar":37.9,"price":148.99},{"s":"bandUp","bar":38.9,"price":148.965},{"s":"bandUp","bar":40,"price":148.98},{"s":"bandUp","bar":41.1,"price":148.955},{"s":"bandUp","bar":42.1,"price":148.805},{"s":"bandUp","bar":43.1,"price":148.94},{"s":"bandUp","bar":44.8,"price":149.245},{"s":"bandUp","bar":45.8,"price":149.275},{"s":"bandUp","bar":47.3,"price":149.23},{"s":"bandUp","bar":48.9,"price":149.115},{"s":"bandUp","bar":51.2,"price":149.07},{"s":"bandUp","bar":52.1,"price":149.02},{"s":"bandUp","bar":53.3,"price":148.84},{"s":"bandUp","bar":53.7,"price":148.67},{"s":"bandUp","bar":54.6,"price":148.47},{"s":"bandUp","bar":55.6,"price":148.14},{"s":"bandUp","bar":57.1,"price":147.88},{"s":"bandUp","bar":58.3,"price":147.82},{"s":"bandUp","bar":59.6,"price":147.79},{"s":"bandUp","bar":60.8,"price":147.655},{"s":"bandUp","bar":61.8,"price":147.47},{"s":"bandUp","bar":63,"price":147.19},{"s":"bandUp","bar":64.2,"price":147.04},{"s":"bandUp","bar":66.7,"price":146.865},{"s":"bandUp","bar":68.7,"price":146.855},{"s":"bandUp","bar":71.7,"price":147.14},{"s":"bandUp","bar":74.6,"price":148.34},{"s":"bandUp","bar":76.7,"price":148.77},{"s":"bandUp","bar":78.7,"price":148.865},{"s":"bandUp","bar":79.9,"price":148.905},{"s":"bandUp","bar":82.1,"price":148.97},{"s":"bandUp","bar":83.7,"price":148.915},{"s":"bandUp","bar":85,"price":148.865},{"s":"bandUp","bar":86.2,"price":148.905},{"s":"bandUp","bar":87.1,"price":149.005},{"s":"bandUp","bar":87.7,"price":149.155},{"s":"bandUp","bar":88.7,"price":149.415},{"s":"bandUp","bar":89.8,"price":149.43},{"s":"bandUp","bar":90.8,"price":149.57},{"s":"bandUp","bar":92.1,"price":149.82},{"s":"bandUp","bar":93.1,"price":150.355},{"s":"bandUp","bar":94.2,"price":150.855},{"s":"bandUp","bar":94.8,"price":151.105},{"s":"bandUp","bar":98.3,"price":151.655},{"s":"bandUp","bar":104.6,"price":151.655},{"s":"bandUp","bar":107.4,"price":151.105},{"s":"bandUp","bar":108,"price":150.855},{"s":"bandUp","bar":108.1,"price":150.705},{"s":"bandUp","bar":109.2,"price":150.12},{"s":"bandUp","bar":110.4,"price":149.04},{"s":"bandUp","bar":110.6,"price":148.655},{"s":"bandUp","bar":111.7,"price":148.355},{"s":"bandUp","bar":114.9,"price":148.02},{"s":"bandUp","bar":116.1,"price":147.905},{"s":"bandUp","bar":119.9,"price":147.905},{"s":"bandUp","bar":122.1,"price":147.82},{"s":"bandUp","bar":124.6,"price":147.79},{"s":"bandUp","bar":126.2,"price":147.765},{"s":"bandUp","bar":128.7,"price":147.855},{"s":"bandUp","bar":130,"price":147.93},{"s":"bandUp","bar":131.7,"price":147.94},{"s":"bandUp","bar":133,"price":147.94},{"s":"bandUp","bar":134.6,"price":148.055},{"s":"bandUp","bar":136.7,"price":148.29},{"s":"bandUp","bar":139,"price":148.555},{"s":"bandUp","bar":140,"price":148.515},{"s":"bandUp","bar":144,"price":148.515},{"s":"bandUp","bar":145,"price":148.565},{"s":"bandUp","bar":148.1,"price":148.615},{"s":"bandUp","bar":149.9,"price":148.79},{"s":"bandUp","bar":151.2,"price":148.67},{"s":"bandUp","bar":152.3,"price":148.505},{"s":"bandUp","bar":153.1,"price":148.39},{"s":"bandUp","bar":154.9,"price":148.305},{"s":"bandUp","bar":156.7,"price":148.17},{"s":"bandUp","bar":157.9,"price":148.005},{"s":"bandUp","bar":160.4,"price":147.965},{"s":"bandUp","bar":164.9,"price":148.04},{"s":"bandUp","bar":166.2,"price":148.095},{"s":"bandUp","bar":170,"price":148.14},{"s":"bandUp","bar":173.7,"price":147.99},{"s":"bandUp","bar":177.1,"price":148.03},{"s":"bandUp","bar":180.4,"price":147.93},{"s":"bandUp","bar":183.7,"price":148.38},
{"s":"bandLo","bar":0,"price":146.045},{"s":"bandLo","bar":1.1,"price":145.93},{"s":"bandLo","bar":2.7,"price":146.045},{"s":"bandLo","bar":3.9,"price":146.005},{"s":"bandLo","bar":4.9,"price":146.015},{"s":"bandLo","bar":6.2,"price":145.965},{"s":"bandLo","bar":8.1,"price":145.955},{"s":"bandLo","bar":9.9,"price":145.82},{"s":"bandLo","bar":11.8,"price":145.87},{"s":"bandLo","bar":12.9,"price":146.09},{"s":"bandLo","bar":13.9,"price":146.19},{"s":"bandLo","bar":15.4,"price":146.295},{"s":"bandLo","bar":16.8,"price":146.44},{"s":"bandLo","bar":17.7,"price":146.72},{"s":"bandLo","bar":18.7,"price":146.89},{"s":"bandLo","bar":20,"price":146.915},{"s":"bandLo","bar":21.1,"price":146.74},{"s":"bandLo","bar":22.7,"price":146.675},{"s":"bandLo","bar":24.2,"price":146.68},{"s":"bandLo","bar":26.2,"price":146.92},{"s":"bandLo","bar":28.7,"price":147.22},{"s":"bandLo","bar":31.2,"price":147.555},{"s":"bandLo","bar":34.2,"price":147.955},{"s":"bandLo","bar":37.1,"price":147.97},{"s":"bandLo","bar":40,"price":147.98},{"s":"bandLo","bar":41.4,"price":148.14},{"s":"bandLo","bar":42.1,"price":148.28},{"s":"bandLo","bar":46.2,"price":148.24},{"s":"bandLo","bar":48.7,"price":148.04},{"s":"bandLo","bar":51.2,"price":147.755},{"s":"bandLo","bar":53.3,"price":147.44},{"s":"bandLo","bar":55.4,"price":147.04},{"s":"bandLo","bar":57.9,"price":146.705},{"s":"bandLo","bar":59.6,"price":146.09},{"s":"bandLo","bar":60,"price":145.97},{"s":"bandLo","bar":61.2,"price":145.92},{"s":"bandLo","bar":63.1,"price":146.045},{"s":"bandLo","bar":67,"price":145.945},{"s":"bandLo","bar":69.2,"price":145.945},{"s":"bandLo","bar":73.1,"price":146.34},{"s":"bandLo","bar":76.8,"price":146.89},{"s":"bandLo","bar":80,"price":147.44},{"s":"bandLo","bar":81.7,"price":147.705},{"s":"bandLo","bar":83.7,"price":148.24},{"s":"bandLo","bar":87.1,"price":148.555},{"s":"bandLo","bar":92.1,"price":148.87},{"s":"bandLo","bar":94.6,"price":149.19},{"s":"bandLo","bar":96.7,"price":149.47},{"s":"bandLo","bar":98,"price":149.57},{"s":"bandLo","bar":99.2,"price":149.58},{"s":"bandLo","bar":101.1,"price":149.39},{"s":"bandLo","bar":103.1,"price":149.12},{"s":"bandLo","bar":104.6,"price":148.955},{"s":"bandLo","bar":105.4,"price":148.855},{"s":"bandLo","bar":109.6,"price":148.355},{"s":"bandLo","bar":112.1,"price":147.955},{"s":"bandLo","bar":115.2,"price":147.605},{"s":"bandLo","bar":118.3,"price":147.355},
{"s":"drop","bar":97.7,"price":149.98},{"s":"drop","bar":98.3,"price":149.92},{"s":"drop","bar":99.8,"price":149.44},{"s":"drop","bar":100.4,"price":149.12},{"s":"drop","bar":101.1,"price":148.855},{"s":"drop","bar":101.2,"price":148.055},{"s":"drop","bar":101.7,"price":147.355},{"s":"drop","bar":102.7,"price":146.855},{"s":"drop","bar":103.7,"price":146.155},{"s":"drop","bar":105.4,"price":145.68},{"s":"drop","bar":109.6,"price":145.68},{"s":"drop","bar":110.2,"price":145.855},{"s":"drop","bar":112.1,"price":146.405},{"s":"drop","bar":113.6,"price":146.83},{"s":"drop","bar":115.2,"price":147.105},{"s":"drop","bar":117.4,"price":147.23},{"s":"drop","bar":119.9,"price":147.33},{"s":"drop","bar":122.1,"price":147.38},
{"s":"bandG","bar":117.4,"price":146.905},{"s":"bandG","bar":119.9,"price":147.09},{"s":"bandG","bar":122.1,"price":147.17},{"s":"bandG","bar":124.6,"price":147.055},{"s":"bandG","bar":128,"price":146.99},{"s":"bandG","bar":133,"price":147.015},{"s":"bandG","bar":135.4,"price":147.045},{"s":"bandG","bar":137.1,"price":147.005},{"s":"bandG","bar":139.2,"price":147.22},{"s":"bandG","bar":140.8,"price":147.345},{"s":"bandG","bar":142.4,"price":147.355},{"s":"bandG","bar":144.2,"price":147.38},{"s":"bandG","bar":147,"price":146.905},{"s":"bandG","bar":149.6,"price":146.555},{"s":"bandG","bar":150.8,"price":146.38},{"s":"bandG","bar":152.1,"price":146.345},{"s":"bandG","bar":153.1,"price":146.42},{"s":"bandG","bar":154,"price":146.44},{"s":"bandG","bar":155.2,"price":146.44},{"s":"bandG","bar":156.2,"price":146.415},{"s":"bandG","bar":157.1,"price":146.385},{"s":"bandG","bar":160.8,"price":146.38},{"s":"bandG","bar":161.8,"price":146.34},{"s":"bandG","bar":164.6,"price":146.655},{"s":"bandG","bar":167.2,"price":146.83},{"s":"bandG","bar":169.6,"price":146.855},{"s":"bandG","bar":171.7,"price":147.19},{"s":"bandG","bar":173.9,"price":147.33},{"s":"bandG","bar":178.3,"price":147.195},{"s":"bandG","bar":182.1,"price":147.19},{"s":"bandG","bar":183.7,"price":147.005},{"s":"bandG","bar":184.9,"price":146.97},
{"s":"short","bar":12.9,"price":147.73},{"s":"short","bar":16.1,"price":147.99},{"s":"short","bar":16.8,"price":148.02},{"s":"short","bar":17.9,"price":147.99},{"s":"short","bar":19.2,"price":147.92},{"s":"short","bar":20,"price":147.99},{"s":"short","bar":20.8,"price":148.27},{"s":"short","bar":21.7,"price":148.28},{"s":"short","bar":23.9,"price":148.355},{"s":"short","bar":25.9,"price":148.39},{"s":"short","bar":26.7,"price":148.14},{"s":"short","bar":28.7,"price":148.04},{"s":"short","bar":31.1,"price":147.945},{"s":"short","bar":32.9,"price":148.04},{"s":"short","bar":34,"price":148.27},{"s":"short","bar":36.2,"price":148.665},{"s":"short","bar":37.9,"price":148.665},{"s":"short","bar":38.6,"price":148.47},{"s":"short","bar":40.2,"price":148.49},{"s":"short","bar":42.1,"price":148.28},{"s":"short","bar":43.3,"price":147.955},{"s":"short","bar":45.4,"price":147.755},{"s":"short","bar":47.1,"price":147.555},{"s":"short","bar":49.6,"price":147.105},{"s":"short","bar":51.2,"price":146.655},{"s":"short","bar":53.3,"price":146.255},{"s":"short","bar":55.4,"price":146.205},{"s":"short","bar":58.7,"price":146.09},
{"s":"bump","bar":77,"price":148.055},{"s":"bump","bar":82.1,"price":148.43},{"s":"bump","bar":85.8,"price":148.455},{"s":"bump","bar":87.1,"price":148.705},{"s":"bump","bar":89.6,"price":148.78},{"s":"bump","bar":91.2,"price":148.855},{"s":"bump","bar":93.1,"price":149.59},{"s":"bump","bar":95,"price":149.67},{"s":"bump","bar":97.1,"price":149.72},{"s":"bump","bar":98.3,"price":149.705},
{"s":"zigzag","bar":0,"price":146.265},{"s":"zigzag","bar":23.9,"price":149.14},{"s":"zigzag","bar":60,"price":145.975},{"s":"zigzag","bar":96.1,"price":150.765},{"s":"zigzag","bar":107.4,"price":146.71},{"s":"zigzag","bar":139.9,"price":148.505},{"s":"zigzag","bar":151.1,"price":146.32},{"s":"zigzag","bar":167.9,"price":148.115},{"s":"zigzag","bar":176.8,"price":146.94},{"s":"zigzag","bar":184.1,"price":148.405},
{"s":"fGreen","bar":184.2,"price":147.69},{"s":"fGreen","bar":188.3,"price":147.855},{"s":"fGreen","bar":190.8,"price":147.965},{"s":"fGreen","bar":194,"price":148.155},
{"s":"fRed","bar":184.2,"price":147.69},{"s":"fRed","bar":188.3,"price":147.845},{"s":"fRed","bar":190.8,"price":147.955},{"s":"fRed","bar":194,"price":148.1},
{"s":"fOrange","bar":183.9,"price":147.675},{"s":"fOrange","bar":189.2,"price":147.62},{"s":"fOrange","bar":194,"price":147.535},
{"s":"fBlue","bar":183.9,"price":147.68},{"s":"fBlue","bar":189.2,"price":147.625},{"s":"fBlue","bar":194,"price":147.54},
{"s":"fMagenta","bar":184.2,"price":147.69},{"s":"fMagenta","bar":184.9,"price":147.99},{"s":"fMagenta","bar":186.7,"price":148.49},{"s":"fMagenta","bar":187.4,"price":148.655},{"s":"fMagenta","bar":189.3,"price":149.83},{"s":"fMagenta","bar":192.7,"price":151.04},{"s":"fMagenta","bar":193.3,"price":151.255}
],
"ribbons":[
{"s":"mid","bar":0,"price":148.81},{"s":"mid","bar":233.6,"price":146.77},
{"s":"w1","bar":5.1,"price":146.53},{"s":"w1","bar":12.1,"price":146.855},{"s":"w1","bar":17.1,"price":147.205},{"s":"w1","bar":21.1,"price":147.705},{"s":"w1","bar":22.1,"price":148.255},{"s":"w1","bar":24.6,"price":148.705},{"s":"w1","bar":26.4,"price":148.78},
{"s":"w2","bar":7.1,"price":146.605},{"s":"w2","bar":13.3,"price":146.88},{"s":"w2","bar":18.3,"price":147.355},{"s":"w2","bar":21.8,"price":147.955},{"s":"w2","bar":24,"price":148.305},{"s":"w2","bar":26.4,"price":148.505},{"s":"w2","bar":29.6,"price":148.555},
{"s":"w3","bar":8.3,"price":146.63},{"s":"w3","bar":14.6,"price":146.905},{"s":"w3","bar":19.6,"price":147.405},{"s":"w3","bar":23.3,"price":148.005},{"s":"w3","bar":26.4,"price":148.18},{"s":"w3","bar":30.8,"price":148.355},{"s":"w3","bar":35.8,"price":148.505},{"s":"w3","bar":39.6,"price":148.605},
{"s":"w4","bar":73.3,"price":147.455},{"s":"w4","bar":77.1,"price":148.055},{"s":"w4","bar":80.8,"price":148.355},{"s":"w4","bar":87.1,"price":148.68},{"s":"w4","bar":90.2,"price":148.905},{"s":"w4","bar":92.4,"price":149.855},{"s":"w4","bar":94.2,"price":150.405},{"s":"w4","bar":95.4,"price":150.495},
{"s":"w5","bar":73.3,"price":147.255},{"s":"w5","bar":78.3,"price":147.855},{"s":"w5","bar":83.3,"price":148.255},{"s":"w5","bar":88.9,"price":148.805},{"s":"w5","bar":92.1,"price":149.405},{"s":"w5","bar":95.2,"price":150.155},{"s":"w5","bar":96.8,"price":150.355},
{"s":"w6","bar":74.6,"price":147.155},{"s":"w6","bar":80.8,"price":147.855},{"s":"w6","bar":87.1,"price":148.405},{"s":"w6","bar":92.7,"price":149.455},{"s":"w6","bar":95.8,"price":149.955},{"s":"w6","bar":96.8,"price":150.155},
{"s":"w7","bar":77.1,"price":147.205},{"s":"w7","bar":84.6,"price":148.005},{"s":"w7","bar":90.8,"price":148.605},{"s":"w7","bar":93.9,"price":149.305},{"s":"w7","bar":96.8,"price":149.88},
{"s":"w8","bar":130.2,"price":147.555},{"s":"w8","bar":134,"price":147.805},{"s":"w8","bar":137.1,"price":148.055},{"s":"w8","bar":139,"price":148.355},
{"s":"w9","bar":132.1,"price":147.605},{"s":"w9","bar":135.2,"price":147.78},{"s":"w9","bar":138.3,"price":148.005},{"s":"w9","bar":139.3,"price":148.255},
{"s":"w10","bar":179.6,"price":147.555},{"s":"w10","bar":182.1,"price":147.755},{"s":"w10","bar":183.3,"price":147.955},{"s":"w10","bar":184.9,"price":148.055},
{"s":"w11","bar":181.4,"price":147.605},{"s":"w11","bar":182.7,"price":147.805},{"s":"w11","bar":183.9,"price":148.005},
{"s":"r1","bar":43.6,"price":148.33},{"s":"r1","bar":46.4,"price":147.855},{"s":"r1","bar":49.6,"price":147.355},{"s":"r1","bar":52.7,"price":146.905},{"s":"r1","bar":55.8,"price":146.555},{"s":"r1","bar":58.3,"price":146.305},
{"s":"r2","bar":44,"price":148.055},{"s":"r2","bar":47.7,"price":147.555},{"s":"r2","bar":50.8,"price":147.105},{"s":"r2","bar":54.6,"price":146.705},{"s":"r2","bar":57.7,"price":146.405},
{"s":"r3","bar":44.6,"price":147.855},{"s":"r3","bar":48.9,"price":147.305},{"s":"r3","bar":53.3,"price":146.705},{"s":"r3","bar":56.4,"price":146.455},
{"s":"r4","bar":98.7,"price":149.305},{"s":"r4","bar":101.4,"price":148.555},{"s":"r4","bar":104.6,"price":147.855},{"s":"r4","bar":108.3,"price":147.555},{"s":"r4","bar":114.6,"price":147.255},
{"s":"r5","bar":99.3,"price":148.955},{"s":"r5","bar":102.1,"price":148.105},{"s":"r5","bar":105.8,"price":147.655},{"s":"r5","bar":112.1,"price":147.405},{"s":"r5","bar":118.3,"price":147.205},
{"s":"r6","bar":99.9,"price":148.555},{"s":"r6","bar":103.3,"price":147.855},{"s":"r6","bar":107.1,"price":147.455},{"s":"r6","bar":117.1,"price":147.105},
{"s":"r7","bar":146.4,"price":147.405},{"s":"r7","bar":148.9,"price":147.055},{"s":"r7","bar":151.4,"price":146.705},
{"s":"y1","bar":97.1,"price":150.44},{"s":"y1","bar":97.7,"price":149.755},{"s":"y1","bar":98.3,"price":149.255},{"s":"y1","bar":99,"price":148.905},
{"s":"y2","bar":26,"price":148.58},{"s":"y2","bar":27.3,"price":148.255},{"s":"y2","bar":28.9,"price":148.105},{"s":"y2","bar":30.8,"price":148.205}
],
"levels":[
{"kind":"skyFine","bar":0,"end":92.7,"price":150.378},{"kind":"sky","bar":24,"end":86.8,"price":149.138},{"kind":"skyFine","bar":0,"end":20.2,"price":148.628},{"kind":"sky","bar":40.2,"end":79.6,"price":148.638},{"kind":"skyFine","bar":0,"end":20.2,"price":148.038},{"kind":"sky","bar":104.6,"end":129.6,"price":148.093},{"kind":"sky","bar":10.8,"end":14.6,"price":147.553},{"kind":"sky","bar":95.8,"end":187.7,"price":150.783},{"kind":"pale","bar":11.4,"end":49.6,"price":146.913},{"kind":"pale","bar":107.7,"end":149.6,"price":146.693},{"kind":"pale","bar":60.2,"end":187.7,"price":145.973},{"kind":"pale","bar":176.8,"end":184.9,"price":146.933},
{"kind":"ask","bar":-0.4,"end":233.7,"price":148.508},{"kind":"bid","bar":-0.4,"end":233.9,"price":148.418},{"kind":"last","bar":0,"end":233.9,"price":148.223},{"kind":"ydl","bar":118,"end":184,"price":147.278},{"kind":"ydh","bar":118,"end":184,"price":148.398},{"kind":"ydc","bar":106,"end":184,"price":148.358},{"kind":"ydo","bar":106,"end":183,"price":147.283},{"kind":"lmh","bar":110,"end":184,"price":150.708},{"kind":"lwl","bar":150.8,"end":187.7,"price":146.313}
],
"boxes":[
{"label":"LMH","bar":106,"end":110,"top":150.795,"bottom":150.715,"tone":"red"},{"label":"M","bar":179.8,"end":181.5,"top":150.855,"bottom":150.79,"tone":"red"},{"label":"M","bar":179.8,"end":181.5,"top":146.315,"bottom":146.245,"tone":"red"},{"label":"LWH","bar":110,"end":114,"top":148.585,"bottom":148.505,"tone":"orange"},{"label":"LWL","bar":110,"end":114,"top":146.315,"bottom":146.24,"tone":"orange"},{"label":"YDH","bar":114,"end":118,"top":148.475,"bottom":148.4,"tone":"yellow"},{"label":"YDL","bar":114,"end":118,"top":147.28,"bottom":147.195,"tone":"yellow"},{"label":"YDC","bar":102,"end":106,"top":148.4,"bottom":148.32,"tone":"white"},{"label":"YDO","bar":102,"end":106,"top":147.32,"bottom":147.24,"tone":"white"},{"label":"W","bar":181,"end":183,"top":148.47,"bottom":148.395,"tone":"orange"},{"label":"W","bar":181,"end":183,"top":146.935,"bottom":146.86,"tone":"orange"},{"label":"","bar":183,"end":185,"top":148.3,"bottom":148.14,"tone":"yellow"}
],
"boxText":[
{"label":"LMH","bar":108,"price":150.755,"tone":"red"},{"label":"M","bar":180.65,"price":150.822,"tone":"red"},{"label":"M","bar":180.65,"price":146.28,"tone":"red"},{"label":"LWH","bar":112,"price":148.545,"tone":"orange"},{"label":"LWL","bar":112,"price":146.278,"tone":"orange"},{"label":"YDH","bar":116,"price":148.437,"tone":"yellow"},{"label":"YDL","bar":116,"price":147.237,"tone":"yellow"},{"label":"YDC","bar":104,"price":148.36,"tone":"white"},{"label":"YDO","bar":104,"price":147.28,"tone":"white"},{"label":"W","bar":182,"price":148.432,"tone":"orange"},{"label":"W","bar":182,"price":146.898,"tone":"orange"},{"label":"D","bar":184,"price":148.26,"tone":"yellow"},{"label":"D","bar":184,"price":148.19,"tone":"yellow"},{"label":"4","bar":194.8,"price":148.17,"tone":"white"},{"label":"2","bar":194.8,"price":148.105,"tone":"white"},{"label":"3","bar":194.8,"price":147.545,"tone":"white"}
],
"rings":[
{"bar":77.9,"price":148.685},{"bar":85.9,"price":148.755},{"bar":103.9,"price":147.205},{"bar":104.9,"price":147.005},{"bar":106.9,"price":146.975},{"bar":121.1,"price":146.92},{"bar":124.9,"price":146.975},{"bar":181.9,"price":147.93},{"bar":184.1,"price":148.385},{"bar":52.9,"price":146.485},{"bar":56,"price":146.41},{"bar":59.9,"price":146.355},{"bar":6.1,"price":146.695}
],
"sessions":[
{"bar":0,"session":"G"},{"bar":1,"session":"R"},{"bar":2,"session":"R"},{"bar":3,"session":"B"},{"bar":4,"session":"P"},{"bar":5,"session":"K"},{"bar":6,"session":"G"},{"bar":7,"session":"R"},{"bar":8,"session":"R"},{"bar":9,"session":"B"},{"bar":10,"session":"P"},{"bar":11,"session":"K"},{"bar":12,"session":"G"},{"bar":13,"session":"R"},{"bar":14,"session":"R"},{"bar":15,"session":"B"},{"bar":16,"session":"P"},{"bar":17,"session":"K"},{"bar":18,"session":"G"},{"bar":19,"session":"R"},{"bar":20,"session":"R"},{"bar":21,"session":"B"},{"bar":22,"session":"P"},{"bar":23,"session":"K"},{"bar":24,"session":"G"},{"bar":25,"session":"R"},{"bar":26,"session":"R"},{"bar":27,"session":"B"},{"bar":28,"session":"P"},{"bar":29,"session":"K"},{"bar":30,"session":"G"},{"bar":31,"session":"R"},{"bar":32,"session":"R"},{"bar":33,"session":"B"},{"bar":34,"session":"P"},{"bar":35,"session":"K"},{"bar":36,"session":"G"},{"bar":37,"session":"R"},{"bar":38,"session":"R"},{"bar":39,"session":"B"},{"bar":40,"session":"P"},{"bar":41,"session":"K"},{"bar":42,"session":"G"},{"bar":43,"session":"R"},{"bar":44,"session":"R"},{"bar":45,"session":"B"},{"bar":46,"session":"P"},{"bar":47,"session":"K"},{"bar":48,"session":"G"},{"bar":49,"session":"R"},{"bar":50,"session":"R"},{"bar":51,"session":"B"},{"bar":52,"session":"P"},{"bar":53,"session":"K"},{"bar":54,"session":"G"},{"bar":55,"session":"R"},{"bar":56,"session":"R"},{"bar":57,"session":"B"},{"bar":58,"session":"P"},{"bar":59,"session":"K"},{"bar":60,"session":"G"},{"bar":61,"session":"R"},{"bar":62,"session":"R"},{"bar":63,"session":"B"},{"bar":64,"session":"P"},{"bar":65,"session":"K"},{"bar":66,"session":"G"},{"bar":67,"session":"R"},{"bar":68,"session":"R"},{"bar":69,"session":"B"},{"bar":70,"session":"P"},{"bar":71,"session":"K"},{"bar":72,"session":"G"},{"bar":73,"session":"R"},{"bar":74,"session":"R"},{"bar":75,"session":"B"},{"bar":76,"session":"P"},{"bar":77,"session":"K"},{"bar":78,"session":"G"},{"bar":79,"session":"R"},{"bar":80,"session":"R"},{"bar":81,"session":"B"},{"bar":82,"session":"P"},{"bar":83,"session":"K"},{"bar":84,"session":"G"},{"bar":85,"session":"R"},{"bar":86,"session":"R"},{"bar":87,"session":"B"},{"bar":88,"session":"P"},{"bar":89,"session":"K"},{"bar":90,"session":"G"},{"bar":91,"session":"R"},{"bar":92,"session":"R"},{"bar":93,"session":"B"},{"bar":94,"session":"P"},{"bar":95,"session":"K"},{"bar":96,"session":"G"},{"bar":97,"session":"R"},{"bar":98,"session":"R"},{"bar":99,"session":"B"},{"bar":100,"session":"P"},{"bar":101,"session":"K"},{"bar":102,"session":"G"},{"bar":103,"session":"R"},{"bar":104,"session":"R"},{"bar":105,"session":"B"},{"bar":106,"session":"P"},{"bar":107,"session":"K"},{"bar":108,"session":"G"},{"bar":109,"session":"R"},{"bar":110,"session":"R"},{"bar":111,"session":"B"},{"bar":112,"session":"P"},{"bar":113,"session":"K"},{"bar":114,"session":"G"},{"bar":115,"session":"R"},{"bar":116,"session":"R"},{"bar":117,"session":"B"},{"bar":118,"session":"P"},{"bar":119,"session":"K"},{"bar":120,"session":"G"},{"bar":121,"session":"R"},{"bar":122,"session":"R"},{"bar":123,"session":"B"},{"bar":124,"session":"P"},{"bar":125,"session":"K"},{"bar":126,"session":"G"},{"bar":127,"session":"R"},{"bar":128,"session":"R"},{"bar":129,"session":"B"},{"bar":130,"session":"P"},{"bar":131,"session":"K"},{"bar":132,"session":"G"},{"bar":133,"session":"R"},{"bar":134,"session":"R"},{"bar":135,"session":"B"},{"bar":136,"session":"P"},{"bar":137,"session":"K"},{"bar":138,"session":"G"},{"bar":139,"session":"R"},{"bar":140,"session":"R"},{"bar":141,"session":"B"},{"bar":142,"session":"P"},{"bar":143,"session":"K"},{"bar":144,"session":"G"},{"bar":145,"session":"R"},{"bar":146,"session":"R"},{"bar":147,"session":"B"},{"bar":148,"session":"P"},{"bar":149,"session":"K"},{"bar":150,"session":"G"},{"bar":151,"session":"R"},{"bar":152,"session":"R"},{"bar":153,"session":"B"},{"bar":154,"session":"P"},{"bar":155,"session":"K"},{"bar":156,"session":"G"},{"bar":157,"session":"R"},{"bar":158,"session":"R"},{"bar":159,"session":"B"},{"bar":160,"session":"P"},{"bar":161,"session":"K"},{"bar":162,"session":"G"},{"bar":163,"session":"R"},{"bar":164,"session":"R"},{"bar":165,"session":"B"},{"bar":166,"session":"P"},{"bar":167,"session":"K"},{"bar":168,"session":"G"},{"bar":169,"session":"R"},{"bar":170,"session":"R"},{"bar":171,"session":"B"},{"bar":172,"session":"P"},{"bar":173,"session":"K"},{"bar":174,"session":"G"},{"bar":175,"session":"R"},{"bar":176,"session":"R"},{"bar":177,"session":"B"},{"bar":178,"session":"P"},{"bar":179,"session":"K"},{"bar":180,"session":"G"},{"bar":181,"session":"R"},{"bar":182,"session":"R"},{"bar":183,"session":"B"},{"bar":184,"session":"P"},{"bar":185,"session":"K"},{"bar":186,"session":"G"},{"bar":187,"session":"R"},{"bar":188,"session":"R"},{"bar":189,"session":"B"},{"bar":190,"session":"P"},{"bar":191,"session":"K"},{"bar":192,"session":"G"},{"bar":193,"session":"R"},{"bar":194,"session":"R"},{"bar":195,"session":"B"},{"bar":196,"session":"P"},{"bar":197,"session":"K"},{"bar":198,"session":"G"},{"bar":199,"session":"R"},{"bar":200,"session":"R"},{"bar":201,"session":"B"},{"bar":202,"session":"P"},{"bar":203,"session":"K"},{"bar":204,"session":"G"},{"bar":205,"session":"R"},{"bar":206,"session":"R"},{"bar":207,"session":"B"},{"bar":208,"session":"P"},{"bar":209,"session":"K"},{"bar":210,"session":"G"},{"bar":211,"session":"R"},{"bar":212,"session":"R"},{"bar":213,"session":"B"},{"bar":214,"session":"P"},{"bar":215,"session":"K"},{"bar":216,"session":"G"},{"bar":217,"session":"R"},{"bar":218,"session":"R"},{"bar":219,"session":"B"},{"bar":220,"session":"P"},{"bar":221,"session":"K"},{"bar":222,"session":"G"},{"bar":223,"session":"R"},{"bar":224,"session":"R"},{"bar":225,"session":"B"},{"bar":226,"session":"P"},{"bar":227,"session":"K"},{"bar":228,"session":"G"},{"bar":229,"session":"R"},{"bar":230,"session":"R"},{"bar":231,"session":"B"},{"bar":232,"session":"P"},{"bar":233,"session":"K"}
],
"dates":[{"label":"7/14","bar":11.9,"price":145.71},{"label":"7/21","bar":41.8,"price":145.71},{"label":"7/28","bar":71.9,"price":145.71},{"label":"8/4","bar":101.9,"price":145.71},{"label":"8/11","bar":131.8,"price":145.71},{"label":"8/18","bar":161.8,"price":145.71},{"label":"8/25","bar":203.9,"price":145.71}]
},
"encoding":{"x":{"field":"bar","type":"quantitative","scale":{"domain":[-0.4375,239.5625],"nice":false,"zero":false,"padding":0},"axis":null},"y":{"field":"price","type":"quantitative","scale":{"domain":[145.655,151.055],"nice":false,"zero":false},"axis":null}},
"layer":[
{"data":{"name":"kumo"},"mark":{"type":"rule","strokeWidth":1,"strokeDash":[5,4],"clip":true},"encoding":{"y":{"field":"spanA","type":"quantitative","scale":{"domain":[145.655,151.055],"nice":false,"zero":false}},"y2":{"field":"spanB"},"color":{"condition":{"test":"datum.spanA>datum.spanB","value":"#0000ff"},"value":"#ff0000"}}},
{"data":{"name":"kumo"},"mark":{"type":"line","color":"#ffff00","strokeWidth":1.2,"clip":true},"encoding":{"y":{"field":"spanA","type":"quantitative","scale":{"domain":[145.655,151.055],"nice":false,"zero":false}}}},
{"data":{"name":"kumo"},"mark":{"type":"line","color":"#ffff00","strokeWidth":1.2,"clip":true},"encoding":{"y":{"field":"spanB","type":"quantitative","scale":{"domain":[145.655,151.055],"nice":false,"zero":false}}}},
{"data":{"name":"levels"},"mark":{"type":"rule","strokeWidth":1,"clip":true},"encoding":{"x2":{"field":"end"},"color":{"field":"kind","type":"nominal","legend":null,"scale":{"domain":["skyFine","sky","pale","ask","bid","last","ydl","ydh","ydc","ydo","lmh","lwl"],"range":["#66ccff","#66ccff","#ffc8c8","#808080","#ef5350","#ffffff","#ffff00","#ffff00","#ffffff","#ffffff","#ff0000","#ffa500"]}},"strokeDash":{"field":"kind","type":"nominal","legend":null,"scale":{"domain":["skyFine","sky","pale","ask","bid","last","ydl","ydh","ydc","ydo","lmh","lwl"],"range":[[3,2],[3,4],[3,5],[18,6],[1,0],[1,0],[1,0],[18,6],[18,6],[18,6],[18,6],[18,6]]}}}},
{"data":{"name":"thin"},"mark":{"type":"line","strokeWidth":1.3,"clip":true},"encoding":{"detail":{"field":"s"},"color":{"field":"s","type":"nominal","legend":null,"scale":{"domain":["kijun","lag","bandUp","bandLo","drop","bandG","short","bump","zigzag","fGreen","fRed","fOrange","fBlue","fMagenta"],"range":["#0000ff","#00ff00","#ff0000","#ff0000","#ff0000","#ff0000","#ff0000","#ff0000","#ff0000","#33cc33","#ff0000","#ffa500","#3399ff","#e000e0"]}}}},
{"data":{"name":"ribbons"},"mark":{"type":"line","strokeWidth":1.2,"strokeDash":[4,3],"clip":true},"encoding":{"detail":{"field":"s"},"color":{"field":"s","type":"nominal","legend":null,"scale":{"domain":["mid","w1","w2","w3","w4","w5","w6","w7","w8","w9","w10","w11","r1","r2","r3","r4","r5","r6","r7","y1","y2"],"range":["#ee82ee","#ffffff","#ffffff","#ffffff","#ffffff","#ffffff","#ffffff","#ffffff","#ffffff","#ffffff","#ffffff","#ffffff","#ff0000","#ff0000","#ff0000","#ff0000","#ff0000","#ff0000","#ff0000","#ffff00","#ffff00"]}}}},
{"data":{"name":"thick"},"mark":{"type":"line","strokeWidth":2.6,"clip":true},"encoding":{"detail":{"field":"s"},"color":{"field":"s","type":"nominal","legend":null,"scale":{"domain":["ma1","ma2","ma3","up","low"],"range":["#ffffff","#ffff00","#0000ff","#ee82ee","#ee82ee"]}}}},
{"data":{"values":[{"bar":20.8,"price":147.83}]},"mark":{"type":"point","filled":true,"color":"#0000ff","opacity":1,"size":2025,"shape":"M0,-1L.84,-.2L.84,.34L.25,-.18L.25,1L-.25,1L-.25,-.18L-.84,.34L-.84,-.2Z"}},
{"data":{"values":[{"bar":99.9,"price":148.05}]},"mark":{"type":"point","filled":true,"color":"#ff0000","opacity":1,"size":2025,"shape":"M0,1L.84,.2L.84,-.34L.25,.18L.25,-1L-.25,-1L-.25,.18L-.84,-.34L-.84,.2Z"}},
{"data":{"name":"candles"},"mark":{"type":"rule","strokeWidth":1},"encoding":{"y":{"field":"h","type":"quantitative","scale":{"domain":[145.655,151.055],"nice":false,"zero":false}},"y2":{"field":"l"},"color":{"condition":{"test":"datum.c>=datum.o","value":"#26a69a"},"value":"#ef5350"}}},
{"data":{"name":"candles"},"mark":{"type":"bar","size":5,"orient":"vertical"},"encoding":{"y":{"field":"o","type":"quantitative","scale":{"domain":[145.655,151.055],"nice":false,"zero":false}},"y2":{"field":"c"},"color":{"condition":{"test":"datum.c>=datum.o","value":"#26a69a"},"value":"#ef5350"}}},
{"data":{"values":[{"bar":85.9,"price":147.83}]},"mark":{"type":"point","filled":false,"color":"#ffffff","opacity":1,"strokeWidth":2.2,"size":1296,"shape":"M0,-1L.92,.25L.44,.25L.44,1L-.44,1L-.44,.25L-.92,.25Z"}},
{"data":{"values":[{"bar":148.8,"price":147.47}]},"mark":{"type":"point","filled":false,"color":"#ffffff","opacity":1,"strokeWidth":2.2,"size":1296,"shape":"M0,1L.92,-.25L.44,-.25L.44,-1L-.44,-1L-.44,-.25L-.92,-.25Z"}},
{"data":{"name":"rings"},"mark":{"type":"point","shape":"circle","filled":false,"color":"#ff0000","opacity":1,"size":81,"strokeWidth":1}},
{"data":{"name":"rings"},"mark":{"type":"point","shape":"circle","filled":true,"color":"#ff0000","opacity":1,"size":5}},
{"data":{"name":"boxes"},"mark":{"type":"rect","filled":true,"fillOpacity":0,"strokeWidth":1},"encoding":{"x2":{"field":"end"},"y":{"field":"top","type":"quantitative","scale":{"domain":[145.655,151.055],"nice":false,"zero":false}},"y2":{"field":"bottom"},"stroke":{"field":"tone","type":"nominal","legend":null,"scale":{"domain":["red","orange","yellow","white"],"range":["#ff0000","#ffa500","#ffff00","#ffffff"]}}}},
{"data":{"name":"boxText"},"mark":{"type":"text","font":"Liberation Sans","fontSize":12,"baseline":"middle","align":"center"},"encoding":{"text":{"field":"label"},"color":{"field":"tone","type":"nominal","legend":null,"scale":{"domain":["red","orange","yellow","white"],"range":["#ff0000","#ffa500","#ffff00","#ffffff"]}}}},
{"data":{"values":[{"bar":234.2,"end":239.1,"top":148.535,"bottom":148.48,"tag":"ask"},{"bar":234.2,"end":239.1,"top":148.445,"bottom":148.39,"tag":"bid"}]},"mark":{"type":"rect"},"encoding":{"x2":{"field":"end"},"y":{"field":"top","type":"quantitative","scale":{"domain":[145.655,151.055],"nice":false,"zero":false}},"y2":{"field":"bottom"},"color":{"field":"tag","type":"nominal","legend":null,"scale":{"domain":["ask","bid"],"range":["#808080","#ef5350"]}}}},
{"data":{"values":[{"bar":236.65,"price":148.508,"label":"148.508"},{"bar":236.65,"price":148.418,"label":"148.418"}]},"mark":{"type":"text","font":"Liberation Sans","fontSize":10,"color":"#111111","baseline":"middle","align":"center"},"encoding":{"text":{"field":"label"}}},
{"data":{"values":[{"bar":8.6,"price":150.375,"label":"USDJPY H4"}]},"mark":{"type":"text","font":"Inter","fontWeight":300,"fontSize":59,"color":"#ffffff","baseline":"alphabetic","align":"left"},"encoding":{"text":{"field":"label"}}},
{"data":{"values":[{"bar":-0.4375,"end":239.5625,"top":145.75,"bottom":145.655}]},"mark":{"type":"rect","color":"#000000"},"encoding":{"x2":{"field":"end"},"y":{"field":"top","type":"quantitative","scale":{"domain":[145.655,151.055],"nice":false,"zero":false}},"y2":{"field":"bottom"}}},
{"data":{"name":"sessions"},"transform":[{"calculate":"145.74","as":"top"},{"calculate":"145.68","as":"bottom"}],"mark":{"type":"bar","size":8,"xOffset":4,"orient":"vertical"},"encoding":{"y":{"field":"top","type":"quantitative","scale":{"domain":[145.655,151.055],"nice":false,"zero":false}},"y2":{"field":"bottom"},"color":{"field":"session","type":"nominal","legend":null,"scale":{"domain":["G","R","B","P","K"],"range":["#0b6a0b","#8b0000","#00008b","#8b008b","#3c3c3c"]}}}},
{"data":{"name":"dates"},"mark":{"type":"text","font":"Liberation Sans","fontSize":11,"fontWeight":"bold","color":"#ffffff","baseline":"middle","align":"center"},"encoding":{"text":{"field":"label"}}}
],
"resolve":{"scale":{"color":"independent","stroke":"independent","strokeDash":"independent"}}
}
